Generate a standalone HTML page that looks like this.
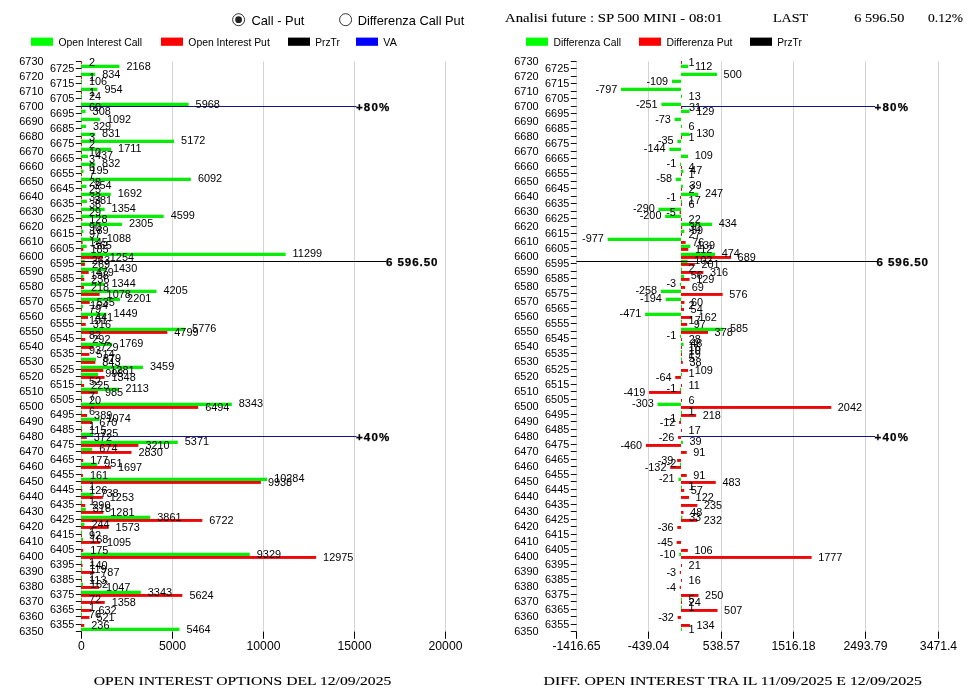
<!DOCTYPE html>
<html><head><meta charset="utf-8"><title>Open Interest</title>
<style>html,body{margin:0;padding:0;background:#fff;}body{width:980px;height:694px;overflow:hidden;font-family:"Liberation Sans",sans-serif;}svg text{white-space:pre;}</style>
</head><body>
<svg width="980" height="694" viewBox="0 0 980 694" style="display:block;will-change:transform">
<rect x="0" y="0" width="980" height="694" fill="#fff"/>
<circle cx="238.6" cy="19.7" r="6" fill="#fff" stroke="#333" stroke-width="1"/>
<circle cx="238.6" cy="19.7" r="3.4" fill="#222"/>
<text x="251.4" y="24.6" font-size="12.6" font-family="Liberation Sans, sans-serif" textLength="53.0" lengthAdjust="spacingAndGlyphs" fill="#000">Call - Put</text>
<circle cx="345.6" cy="19.7" r="6" fill="#fff" stroke="#333" stroke-width="1"/>
<text x="357.7" y="24.6" font-size="12.6" font-family="Liberation Sans, sans-serif" textLength="106.6" lengthAdjust="spacingAndGlyphs" fill="#000">Differenza Call Put</text>
<text x="505.0" y="22.0" font-size="13.2" font-family="Liberation Serif, serif" textLength="217.5" lengthAdjust="spacingAndGlyphs" fill="#000" stroke="#000" stroke-width="0.12">Analisi future : SP 500 MINI - 08:01</text>
<text x="773.0" y="22.0" font-size="13.2" font-family="Liberation Serif, serif" textLength="35.0" lengthAdjust="spacingAndGlyphs" fill="#000" stroke="#000" stroke-width="0.12">LAST</text>
<text x="854.3" y="22.0" font-size="13.2" font-family="Liberation Serif, serif" textLength="50.0" lengthAdjust="spacingAndGlyphs" fill="#000" stroke="#000" stroke-width="0.12">6 596.50</text>
<text x="928.0" y="22.0" font-size="13.2" font-family="Liberation Serif, serif" textLength="35.0" lengthAdjust="spacingAndGlyphs" fill="#000" stroke="#000" stroke-width="0.12">0.12%</text>
<rect x="31.00" y="37.60" width="22.00" height="8.20" fill="#00ff00"/>
<text x="58.5" y="45.9" font-size="11.8" font-family="Liberation Sans, sans-serif" textLength="83.5" lengthAdjust="spacingAndGlyphs" fill="#000">Open Interest Call</text>
<rect x="161.00" y="37.60" width="22.00" height="8.20" fill="#ff0000"/>
<text x="188.3" y="45.9" font-size="11.8" font-family="Liberation Sans, sans-serif" textLength="81.5" lengthAdjust="spacingAndGlyphs" fill="#000">Open Interest Put</text>
<rect x="288.00" y="37.60" width="22.00" height="8.20" fill="#000"/>
<text x="315.3" y="45.9" font-size="11.8" font-family="Liberation Sans, sans-serif" textLength="24.5" lengthAdjust="spacingAndGlyphs" fill="#000">PrzTr</text>
<rect x="356.00" y="37.60" width="22.00" height="8.20" fill="#0000ff"/>
<text x="383.3" y="45.9" font-size="11.8" font-family="Liberation Sans, sans-serif" textLength="13.5" lengthAdjust="spacingAndGlyphs" fill="#000">VA</text>
<rect x="526.00" y="37.60" width="22.00" height="8.20" fill="#00ff00"/>
<text x="553.5" y="45.9" font-size="11.8" font-family="Liberation Sans, sans-serif" textLength="67.5" lengthAdjust="spacingAndGlyphs" fill="#000">Differenza Call</text>
<rect x="639.00" y="37.60" width="22.00" height="8.20" fill="#ff0000"/>
<text x="666.5" y="45.9" font-size="11.8" font-family="Liberation Sans, sans-serif" textLength="66.0" lengthAdjust="spacingAndGlyphs" fill="#000">Differenza Put</text>
<rect x="750.00" y="37.60" width="22.00" height="8.20" fill="#000"/>
<text x="777.3" y="45.9" font-size="11.8" font-family="Liberation Sans, sans-serif" textLength="24.5" lengthAdjust="spacingAndGlyphs" fill="#000">PrzTr</text>
<line x1="81.50" y1="61.40" x2="81.50" y2="631.59" stroke="#d4d4d4" stroke-width="1"/>
<line x1="81.50" y1="631.59" x2="81.50" y2="638.79" stroke="#000" stroke-width="1"/>
<text x="81.5" y="650.3" font-size="12.2" font-family="Liberation Sans, sans-serif" text-anchor="middle" fill="#000">0</text>
<line x1="172.50" y1="61.40" x2="172.50" y2="631.59" stroke="#d4d4d4" stroke-width="1"/>
<line x1="172.50" y1="631.59" x2="172.50" y2="638.79" stroke="#000" stroke-width="1"/>
<text x="172.5" y="650.3" font-size="12.2" font-family="Liberation Sans, sans-serif" text-anchor="middle" fill="#000">5000</text>
<line x1="263.50" y1="61.40" x2="263.50" y2="631.59" stroke="#d4d4d4" stroke-width="1"/>
<line x1="263.50" y1="631.59" x2="263.50" y2="638.79" stroke="#000" stroke-width="1"/>
<text x="263.5" y="650.3" font-size="12.2" font-family="Liberation Sans, sans-serif" text-anchor="middle" fill="#000">10000</text>
<line x1="354.50" y1="61.40" x2="354.50" y2="631.59" stroke="#d4d4d4" stroke-width="1"/>
<line x1="354.50" y1="631.59" x2="354.50" y2="638.79" stroke="#000" stroke-width="1"/>
<text x="354.5" y="650.3" font-size="12.2" font-family="Liberation Sans, sans-serif" text-anchor="middle" fill="#000">15000</text>
<line x1="445.50" y1="61.40" x2="445.50" y2="631.59" stroke="#d4d4d4" stroke-width="1"/>
<line x1="445.50" y1="631.59" x2="445.50" y2="638.79" stroke="#000" stroke-width="1"/>
<text x="445.5" y="650.3" font-size="12.2" font-family="Liberation Sans, sans-serif" text-anchor="middle" fill="#000">20000</text>
<line x1="75.80" y1="61.50" x2="81.60" y2="61.50" stroke="#111" stroke-width="1"/>
<text x="43.5" y="65.3" font-size="10.9" font-family="Liberation Sans, sans-serif" text-anchor="end" fill="#000">6730</text>
<line x1="75.80" y1="68.50" x2="81.60" y2="68.50" stroke="#111" stroke-width="1"/>
<text x="74.3" y="72.3" font-size="10.9" font-family="Liberation Sans, sans-serif" text-anchor="end" fill="#000">6725</text>
<line x1="75.80" y1="76.50" x2="81.60" y2="76.50" stroke="#111" stroke-width="1"/>
<text x="43.5" y="80.3" font-size="10.9" font-family="Liberation Sans, sans-serif" text-anchor="end" fill="#000">6720</text>
<line x1="75.80" y1="83.50" x2="81.60" y2="83.50" stroke="#111" stroke-width="1"/>
<text x="74.3" y="87.3" font-size="10.9" font-family="Liberation Sans, sans-serif" text-anchor="end" fill="#000">6715</text>
<line x1="75.80" y1="91.50" x2="81.60" y2="91.50" stroke="#111" stroke-width="1"/>
<text x="43.5" y="95.3" font-size="10.9" font-family="Liberation Sans, sans-serif" text-anchor="end" fill="#000">6710</text>
<line x1="75.80" y1="98.50" x2="81.60" y2="98.50" stroke="#111" stroke-width="1"/>
<text x="74.3" y="102.3" font-size="10.9" font-family="Liberation Sans, sans-serif" text-anchor="end" fill="#000">6705</text>
<line x1="75.80" y1="106.50" x2="81.60" y2="106.50" stroke="#111" stroke-width="1"/>
<text x="43.5" y="110.3" font-size="10.9" font-family="Liberation Sans, sans-serif" text-anchor="end" fill="#000">6700</text>
<line x1="75.80" y1="113.50" x2="81.60" y2="113.50" stroke="#111" stroke-width="1"/>
<text x="74.3" y="117.3" font-size="10.9" font-family="Liberation Sans, sans-serif" text-anchor="end" fill="#000">6695</text>
<line x1="75.80" y1="121.50" x2="81.60" y2="121.50" stroke="#111" stroke-width="1"/>
<text x="43.5" y="125.3" font-size="10.9" font-family="Liberation Sans, sans-serif" text-anchor="end" fill="#000">6690</text>
<line x1="75.80" y1="128.50" x2="81.60" y2="128.50" stroke="#111" stroke-width="1"/>
<text x="74.3" y="132.3" font-size="10.9" font-family="Liberation Sans, sans-serif" text-anchor="end" fill="#000">6685</text>
<line x1="75.80" y1="136.50" x2="81.60" y2="136.50" stroke="#111" stroke-width="1"/>
<text x="43.5" y="140.3" font-size="10.9" font-family="Liberation Sans, sans-serif" text-anchor="end" fill="#000">6680</text>
<line x1="75.80" y1="143.50" x2="81.60" y2="143.50" stroke="#111" stroke-width="1"/>
<text x="74.3" y="147.3" font-size="10.9" font-family="Liberation Sans, sans-serif" text-anchor="end" fill="#000">6675</text>
<line x1="75.80" y1="151.50" x2="81.60" y2="151.50" stroke="#111" stroke-width="1"/>
<text x="43.5" y="155.3" font-size="10.9" font-family="Liberation Sans, sans-serif" text-anchor="end" fill="#000">6670</text>
<line x1="75.80" y1="158.50" x2="81.60" y2="158.50" stroke="#111" stroke-width="1"/>
<text x="74.3" y="162.3" font-size="10.9" font-family="Liberation Sans, sans-serif" text-anchor="end" fill="#000">6665</text>
<line x1="75.80" y1="166.50" x2="81.60" y2="166.50" stroke="#111" stroke-width="1"/>
<text x="43.5" y="170.3" font-size="10.9" font-family="Liberation Sans, sans-serif" text-anchor="end" fill="#000">6660</text>
<line x1="75.80" y1="173.50" x2="81.60" y2="173.50" stroke="#111" stroke-width="1"/>
<text x="74.3" y="177.3" font-size="10.9" font-family="Liberation Sans, sans-serif" text-anchor="end" fill="#000">6655</text>
<line x1="75.80" y1="181.50" x2="81.60" y2="181.50" stroke="#111" stroke-width="1"/>
<text x="43.5" y="185.3" font-size="10.9" font-family="Liberation Sans, sans-serif" text-anchor="end" fill="#000">6650</text>
<line x1="75.80" y1="188.50" x2="81.60" y2="188.50" stroke="#111" stroke-width="1"/>
<text x="74.3" y="192.3" font-size="10.9" font-family="Liberation Sans, sans-serif" text-anchor="end" fill="#000">6645</text>
<line x1="75.80" y1="196.50" x2="81.60" y2="196.50" stroke="#111" stroke-width="1"/>
<text x="43.5" y="200.3" font-size="10.9" font-family="Liberation Sans, sans-serif" text-anchor="end" fill="#000">6640</text>
<line x1="75.80" y1="203.50" x2="81.60" y2="203.50" stroke="#111" stroke-width="1"/>
<text x="74.3" y="207.3" font-size="10.9" font-family="Liberation Sans, sans-serif" text-anchor="end" fill="#000">6635</text>
<line x1="75.80" y1="211.50" x2="81.60" y2="211.50" stroke="#111" stroke-width="1"/>
<text x="43.5" y="215.3" font-size="10.9" font-family="Liberation Sans, sans-serif" text-anchor="end" fill="#000">6630</text>
<line x1="75.80" y1="218.50" x2="81.60" y2="218.50" stroke="#111" stroke-width="1"/>
<text x="74.3" y="222.3" font-size="10.9" font-family="Liberation Sans, sans-serif" text-anchor="end" fill="#000">6625</text>
<line x1="75.80" y1="226.50" x2="81.60" y2="226.50" stroke="#111" stroke-width="1"/>
<text x="43.5" y="230.3" font-size="10.9" font-family="Liberation Sans, sans-serif" text-anchor="end" fill="#000">6620</text>
<line x1="75.80" y1="233.50" x2="81.60" y2="233.50" stroke="#111" stroke-width="1"/>
<text x="74.3" y="237.3" font-size="10.9" font-family="Liberation Sans, sans-serif" text-anchor="end" fill="#000">6615</text>
<line x1="75.80" y1="241.50" x2="81.60" y2="241.50" stroke="#111" stroke-width="1"/>
<text x="43.5" y="245.3" font-size="10.9" font-family="Liberation Sans, sans-serif" text-anchor="end" fill="#000">6610</text>
<line x1="75.80" y1="248.50" x2="81.60" y2="248.50" stroke="#111" stroke-width="1"/>
<text x="74.3" y="252.3" font-size="10.9" font-family="Liberation Sans, sans-serif" text-anchor="end" fill="#000">6605</text>
<line x1="75.80" y1="256.50" x2="81.60" y2="256.50" stroke="#111" stroke-width="1"/>
<text x="43.5" y="260.3" font-size="10.9" font-family="Liberation Sans, sans-serif" text-anchor="end" fill="#000">6600</text>
<line x1="75.80" y1="263.50" x2="81.60" y2="263.50" stroke="#111" stroke-width="1"/>
<text x="74.3" y="267.3" font-size="10.9" font-family="Liberation Sans, sans-serif" text-anchor="end" fill="#000">6595</text>
<line x1="75.80" y1="271.50" x2="81.60" y2="271.50" stroke="#111" stroke-width="1"/>
<text x="43.5" y="275.3" font-size="10.9" font-family="Liberation Sans, sans-serif" text-anchor="end" fill="#000">6590</text>
<line x1="75.80" y1="278.50" x2="81.60" y2="278.50" stroke="#111" stroke-width="1"/>
<text x="74.3" y="282.3" font-size="10.9" font-family="Liberation Sans, sans-serif" text-anchor="end" fill="#000">6585</text>
<line x1="75.80" y1="286.50" x2="81.60" y2="286.50" stroke="#111" stroke-width="1"/>
<text x="43.5" y="290.3" font-size="10.9" font-family="Liberation Sans, sans-serif" text-anchor="end" fill="#000">6580</text>
<line x1="75.80" y1="293.50" x2="81.60" y2="293.50" stroke="#111" stroke-width="1"/>
<text x="74.3" y="297.3" font-size="10.9" font-family="Liberation Sans, sans-serif" text-anchor="end" fill="#000">6575</text>
<line x1="75.80" y1="301.50" x2="81.60" y2="301.50" stroke="#111" stroke-width="1"/>
<text x="43.5" y="305.3" font-size="10.9" font-family="Liberation Sans, sans-serif" text-anchor="end" fill="#000">6570</text>
<line x1="75.80" y1="308.50" x2="81.60" y2="308.50" stroke="#111" stroke-width="1"/>
<text x="74.3" y="312.3" font-size="10.9" font-family="Liberation Sans, sans-serif" text-anchor="end" fill="#000">6565</text>
<line x1="75.80" y1="316.50" x2="81.60" y2="316.50" stroke="#111" stroke-width="1"/>
<text x="43.5" y="320.3" font-size="10.9" font-family="Liberation Sans, sans-serif" text-anchor="end" fill="#000">6560</text>
<line x1="75.80" y1="323.50" x2="81.60" y2="323.50" stroke="#111" stroke-width="1"/>
<text x="74.3" y="327.3" font-size="10.9" font-family="Liberation Sans, sans-serif" text-anchor="end" fill="#000">6555</text>
<line x1="75.80" y1="331.50" x2="81.60" y2="331.50" stroke="#111" stroke-width="1"/>
<text x="43.5" y="335.3" font-size="10.9" font-family="Liberation Sans, sans-serif" text-anchor="end" fill="#000">6550</text>
<line x1="75.80" y1="338.50" x2="81.60" y2="338.50" stroke="#111" stroke-width="1"/>
<text x="74.3" y="342.3" font-size="10.9" font-family="Liberation Sans, sans-serif" text-anchor="end" fill="#000">6545</text>
<line x1="75.80" y1="346.50" x2="81.60" y2="346.50" stroke="#111" stroke-width="1"/>
<text x="43.5" y="350.3" font-size="10.9" font-family="Liberation Sans, sans-serif" text-anchor="end" fill="#000">6540</text>
<line x1="75.80" y1="353.50" x2="81.60" y2="353.50" stroke="#111" stroke-width="1"/>
<text x="74.3" y="357.3" font-size="10.9" font-family="Liberation Sans, sans-serif" text-anchor="end" fill="#000">6535</text>
<line x1="75.80" y1="361.50" x2="81.60" y2="361.50" stroke="#111" stroke-width="1"/>
<text x="43.5" y="365.3" font-size="10.9" font-family="Liberation Sans, sans-serif" text-anchor="end" fill="#000">6530</text>
<line x1="75.80" y1="369.50" x2="81.60" y2="369.50" stroke="#111" stroke-width="1"/>
<text x="74.3" y="373.3" font-size="10.9" font-family="Liberation Sans, sans-serif" text-anchor="end" fill="#000">6525</text>
<line x1="75.80" y1="376.50" x2="81.60" y2="376.50" stroke="#111" stroke-width="1"/>
<text x="43.5" y="380.3" font-size="10.9" font-family="Liberation Sans, sans-serif" text-anchor="end" fill="#000">6520</text>
<line x1="75.80" y1="384.50" x2="81.60" y2="384.50" stroke="#111" stroke-width="1"/>
<text x="74.3" y="388.3" font-size="10.9" font-family="Liberation Sans, sans-serif" text-anchor="end" fill="#000">6515</text>
<line x1="75.80" y1="391.50" x2="81.60" y2="391.50" stroke="#111" stroke-width="1"/>
<text x="43.5" y="395.3" font-size="10.9" font-family="Liberation Sans, sans-serif" text-anchor="end" fill="#000">6510</text>
<line x1="75.80" y1="399.50" x2="81.60" y2="399.50" stroke="#111" stroke-width="1"/>
<text x="74.3" y="403.3" font-size="10.9" font-family="Liberation Sans, sans-serif" text-anchor="end" fill="#000">6505</text>
<line x1="75.80" y1="406.50" x2="81.60" y2="406.50" stroke="#111" stroke-width="1"/>
<text x="43.5" y="410.3" font-size="10.9" font-family="Liberation Sans, sans-serif" text-anchor="end" fill="#000">6500</text>
<line x1="75.80" y1="414.50" x2="81.60" y2="414.50" stroke="#111" stroke-width="1"/>
<text x="74.3" y="418.3" font-size="10.9" font-family="Liberation Sans, sans-serif" text-anchor="end" fill="#000">6495</text>
<line x1="75.80" y1="421.50" x2="81.60" y2="421.50" stroke="#111" stroke-width="1"/>
<text x="43.5" y="425.3" font-size="10.9" font-family="Liberation Sans, sans-serif" text-anchor="end" fill="#000">6490</text>
<line x1="75.80" y1="429.50" x2="81.60" y2="429.50" stroke="#111" stroke-width="1"/>
<text x="74.3" y="433.3" font-size="10.9" font-family="Liberation Sans, sans-serif" text-anchor="end" fill="#000">6485</text>
<line x1="75.80" y1="436.50" x2="81.60" y2="436.50" stroke="#111" stroke-width="1"/>
<text x="43.5" y="440.3" font-size="10.9" font-family="Liberation Sans, sans-serif" text-anchor="end" fill="#000">6480</text>
<line x1="75.80" y1="444.50" x2="81.60" y2="444.50" stroke="#111" stroke-width="1"/>
<text x="74.3" y="448.3" font-size="10.9" font-family="Liberation Sans, sans-serif" text-anchor="end" fill="#000">6475</text>
<line x1="75.80" y1="451.50" x2="81.60" y2="451.50" stroke="#111" stroke-width="1"/>
<text x="43.5" y="455.3" font-size="10.9" font-family="Liberation Sans, sans-serif" text-anchor="end" fill="#000">6470</text>
<line x1="75.80" y1="459.50" x2="81.60" y2="459.50" stroke="#111" stroke-width="1"/>
<text x="74.3" y="463.3" font-size="10.9" font-family="Liberation Sans, sans-serif" text-anchor="end" fill="#000">6465</text>
<line x1="75.80" y1="466.50" x2="81.60" y2="466.50" stroke="#111" stroke-width="1"/>
<text x="43.5" y="470.3" font-size="10.9" font-family="Liberation Sans, sans-serif" text-anchor="end" fill="#000">6460</text>
<line x1="75.80" y1="474.50" x2="81.60" y2="474.50" stroke="#111" stroke-width="1"/>
<text x="74.3" y="478.3" font-size="10.9" font-family="Liberation Sans, sans-serif" text-anchor="end" fill="#000">6455</text>
<line x1="75.80" y1="481.50" x2="81.60" y2="481.50" stroke="#111" stroke-width="1"/>
<text x="43.5" y="485.3" font-size="10.9" font-family="Liberation Sans, sans-serif" text-anchor="end" fill="#000">6450</text>
<line x1="75.80" y1="489.50" x2="81.60" y2="489.50" stroke="#111" stroke-width="1"/>
<text x="74.3" y="493.3" font-size="10.9" font-family="Liberation Sans, sans-serif" text-anchor="end" fill="#000">6445</text>
<line x1="75.80" y1="496.50" x2="81.60" y2="496.50" stroke="#111" stroke-width="1"/>
<text x="43.5" y="500.3" font-size="10.9" font-family="Liberation Sans, sans-serif" text-anchor="end" fill="#000">6440</text>
<line x1="75.80" y1="504.50" x2="81.60" y2="504.50" stroke="#111" stroke-width="1"/>
<text x="74.3" y="508.3" font-size="10.9" font-family="Liberation Sans, sans-serif" text-anchor="end" fill="#000">6435</text>
<line x1="75.80" y1="511.50" x2="81.60" y2="511.50" stroke="#111" stroke-width="1"/>
<text x="43.5" y="515.3" font-size="10.9" font-family="Liberation Sans, sans-serif" text-anchor="end" fill="#000">6430</text>
<line x1="75.80" y1="519.50" x2="81.60" y2="519.50" stroke="#111" stroke-width="1"/>
<text x="74.3" y="523.3" font-size="10.9" font-family="Liberation Sans, sans-serif" text-anchor="end" fill="#000">6425</text>
<line x1="75.80" y1="526.50" x2="81.60" y2="526.50" stroke="#111" stroke-width="1"/>
<text x="43.5" y="530.3" font-size="10.9" font-family="Liberation Sans, sans-serif" text-anchor="end" fill="#000">6420</text>
<line x1="75.80" y1="534.50" x2="81.60" y2="534.50" stroke="#111" stroke-width="1"/>
<text x="74.3" y="538.3" font-size="10.9" font-family="Liberation Sans, sans-serif" text-anchor="end" fill="#000">6415</text>
<line x1="75.80" y1="541.50" x2="81.60" y2="541.50" stroke="#111" stroke-width="1"/>
<text x="43.5" y="545.3" font-size="10.9" font-family="Liberation Sans, sans-serif" text-anchor="end" fill="#000">6410</text>
<line x1="75.80" y1="549.50" x2="81.60" y2="549.50" stroke="#111" stroke-width="1"/>
<text x="74.3" y="553.3" font-size="10.9" font-family="Liberation Sans, sans-serif" text-anchor="end" fill="#000">6405</text>
<line x1="75.80" y1="556.50" x2="81.60" y2="556.50" stroke="#111" stroke-width="1"/>
<text x="43.5" y="560.3" font-size="10.9" font-family="Liberation Sans, sans-serif" text-anchor="end" fill="#000">6400</text>
<line x1="75.80" y1="564.50" x2="81.60" y2="564.50" stroke="#111" stroke-width="1"/>
<text x="74.3" y="568.3" font-size="10.9" font-family="Liberation Sans, sans-serif" text-anchor="end" fill="#000">6395</text>
<line x1="75.80" y1="571.50" x2="81.60" y2="571.50" stroke="#111" stroke-width="1"/>
<text x="43.5" y="575.3" font-size="10.9" font-family="Liberation Sans, sans-serif" text-anchor="end" fill="#000">6390</text>
<line x1="75.80" y1="579.50" x2="81.60" y2="579.50" stroke="#111" stroke-width="1"/>
<text x="74.3" y="583.3" font-size="10.9" font-family="Liberation Sans, sans-serif" text-anchor="end" fill="#000">6385</text>
<line x1="75.80" y1="586.50" x2="81.60" y2="586.50" stroke="#111" stroke-width="1"/>
<text x="43.5" y="590.3" font-size="10.9" font-family="Liberation Sans, sans-serif" text-anchor="end" fill="#000">6380</text>
<line x1="75.80" y1="594.50" x2="81.60" y2="594.50" stroke="#111" stroke-width="1"/>
<text x="74.3" y="598.3" font-size="10.9" font-family="Liberation Sans, sans-serif" text-anchor="end" fill="#000">6375</text>
<line x1="75.80" y1="601.50" x2="81.60" y2="601.50" stroke="#111" stroke-width="1"/>
<text x="43.5" y="605.3" font-size="10.9" font-family="Liberation Sans, sans-serif" text-anchor="end" fill="#000">6370</text>
<line x1="75.80" y1="609.50" x2="81.60" y2="609.50" stroke="#111" stroke-width="1"/>
<text x="74.3" y="613.3" font-size="10.9" font-family="Liberation Sans, sans-serif" text-anchor="end" fill="#000">6365</text>
<line x1="75.80" y1="616.50" x2="81.60" y2="616.50" stroke="#111" stroke-width="1"/>
<text x="43.5" y="620.3" font-size="10.9" font-family="Liberation Sans, sans-serif" text-anchor="end" fill="#000">6360</text>
<line x1="75.80" y1="624.50" x2="81.60" y2="624.50" stroke="#111" stroke-width="1"/>
<text x="74.3" y="628.3" font-size="10.9" font-family="Liberation Sans, sans-serif" text-anchor="end" fill="#000">6355</text>
<line x1="75.80" y1="631.50" x2="81.60" y2="631.50" stroke="#111" stroke-width="1"/>
<text x="43.5" y="635.3" font-size="10.9" font-family="Liberation Sans, sans-serif" text-anchor="end" fill="#000">6350</text>
<rect x="81.00" y="64.70" width="38.46" height="3.30" fill="#08ec08"/>
<rect x="81.00" y="72.70" width="14.18" height="3.30" fill="#08ec08"/>
<rect x="81.00" y="79.70" width="1.00" height="3.30" fill="#08ec08"/>
<rect x="81.00" y="87.70" width="16.36" height="3.30" fill="#08ec08"/>
<rect x="81.00" y="94.70" width="1.00" height="3.30" fill="#08ec08"/>
<rect x="81.00" y="102.70" width="107.62" height="3.30" fill="#08ec08"/>
<rect x="81.00" y="109.70" width="4.61" height="3.30" fill="#08ec08"/>
<rect x="81.00" y="117.70" width="18.87" height="3.30" fill="#08ec08"/>
<rect x="81.00" y="124.70" width="4.99" height="3.30" fill="#08ec08"/>
<rect x="81.00" y="132.70" width="14.12" height="3.30" fill="#08ec08"/>
<rect x="81.00" y="139.70" width="93.13" height="3.30" fill="#08ec08"/>
<rect x="81.00" y="147.70" width="30.14" height="3.30" fill="#08ec08"/>
<rect x="81.00" y="154.70" width="6.95" height="3.30" fill="#08ec08"/>
<rect x="81.00" y="162.70" width="14.14" height="3.30" fill="#08ec08"/>
<rect x="81.00" y="169.70" width="2.55" height="3.30" fill="#08ec08"/>
<rect x="81.00" y="177.70" width="109.87" height="3.30" fill="#08ec08"/>
<rect x="81.00" y="184.70" width="5.44" height="3.30" fill="#08ec08"/>
<rect x="81.00" y="192.70" width="29.79" height="3.30" fill="#08ec08"/>
<rect x="81.00" y="199.70" width="5.93" height="3.30" fill="#08ec08"/>
<rect x="81.00" y="207.70" width="23.64" height="3.30" fill="#08ec08"/>
<rect x="81.00" y="214.70" width="82.70" height="3.30" fill="#08ec08"/>
<rect x="81.00" y="222.70" width="40.95" height="3.30" fill="#08ec08"/>
<rect x="81.00" y="229.70" width="2.44" height="3.30" fill="#08ec08"/>
<rect x="81.00" y="237.70" width="18.80" height="3.30" fill="#08ec08"/>
<rect x="81.00" y="244.70" width="5.64" height="3.30" fill="#08ec08"/>
<rect x="81.00" y="252.70" width="204.64" height="3.30" fill="#08ec08"/>
<rect x="81.00" y="259.70" width="3.79" height="3.30" fill="#08ec08"/>
<rect x="81.00" y="267.70" width="25.03" height="3.30" fill="#08ec08"/>
<rect x="81.00" y="274.70" width="2.60" height="3.30" fill="#08ec08"/>
<rect x="81.00" y="282.70" width="23.46" height="3.30" fill="#08ec08"/>
<rect x="81.00" y="289.70" width="75.53" height="3.30" fill="#08ec08"/>
<rect x="81.00" y="297.70" width="39.06" height="3.30" fill="#08ec08"/>
<rect x="81.00" y="304.70" width="1.98" height="3.30" fill="#08ec08"/>
<rect x="81.00" y="312.70" width="25.37" height="3.30" fill="#08ec08"/>
<rect x="81.00" y="319.70" width="1.00" height="3.30" fill="#08ec08"/>
<rect x="81.00" y="327.70" width="104.12" height="3.30" fill="#08ec08"/>
<rect x="81.00" y="334.70" width="1.00" height="3.30" fill="#08ec08"/>
<rect x="81.00" y="342.70" width="31.20" height="3.30" fill="#08ec08"/>
<rect x="81.00" y="349.70" width="1.00" height="3.30" fill="#08ec08"/>
<rect x="81.00" y="357.70" width="15.00" height="3.30" fill="#08ec08"/>
<rect x="81.00" y="365.70" width="61.95" height="3.30" fill="#08ec08"/>
<rect x="81.00" y="372.70" width="17.16" height="3.30" fill="#08ec08"/>
<rect x="81.00" y="380.70" width="1.00" height="3.30" fill="#08ec08"/>
<rect x="81.00" y="387.70" width="37.46" height="3.30" fill="#08ec08"/>
<rect x="81.00" y="395.70" width="1.00" height="3.30" fill="#08ec08"/>
<rect x="81.00" y="402.70" width="150.84" height="3.30" fill="#08ec08"/>
<rect x="81.00" y="410.70" width="1.00" height="3.30" fill="#08ec08"/>
<rect x="81.00" y="417.70" width="18.55" height="3.30" fill="#08ec08"/>
<rect x="81.00" y="425.70" width="1.00" height="3.30" fill="#08ec08"/>
<rect x="81.00" y="432.70" width="12.20" height="3.30" fill="#08ec08"/>
<rect x="81.00" y="440.70" width="96.75" height="3.30" fill="#08ec08"/>
<rect x="81.00" y="447.70" width="11.27" height="3.30" fill="#08ec08"/>
<rect x="81.00" y="462.70" width="16.31" height="3.30" fill="#08ec08"/>
<rect x="81.00" y="477.70" width="186.17" height="3.30" fill="#08ec08"/>
<rect x="81.00" y="485.70" width="1.00" height="3.30" fill="#08ec08"/>
<rect x="81.00" y="492.70" width="12.43" height="3.30" fill="#08ec08"/>
<rect x="81.00" y="500.70" width="1.00" height="3.30" fill="#08ec08"/>
<rect x="81.00" y="507.70" width="4.79" height="3.30" fill="#08ec08"/>
<rect x="81.00" y="515.70" width="69.27" height="3.30" fill="#08ec08"/>
<rect x="81.00" y="522.70" width="3.44" height="3.30" fill="#08ec08"/>
<rect x="81.00" y="530.70" width="1.00" height="3.30" fill="#08ec08"/>
<rect x="81.00" y="537.70" width="2.06" height="3.30" fill="#08ec08"/>
<rect x="81.00" y="552.70" width="168.79" height="3.30" fill="#08ec08"/>
<rect x="81.00" y="560.70" width="1.00" height="3.30" fill="#08ec08"/>
<rect x="81.00" y="567.70" width="1.17" height="3.30" fill="#08ec08"/>
<rect x="81.00" y="575.70" width="1.00" height="3.30" fill="#08ec08"/>
<rect x="81.00" y="582.70" width="1.95" height="3.30" fill="#08ec08"/>
<rect x="81.00" y="590.70" width="59.84" height="3.30" fill="#08ec08"/>
<rect x="81.00" y="597.70" width="1.00" height="3.30" fill="#08ec08"/>
<rect x="81.00" y="605.70" width="1.00" height="3.30" fill="#08ec08"/>
<rect x="81.00" y="612.70" width="1.00" height="3.30" fill="#08ec08"/>
<rect x="81.00" y="627.70" width="98.44" height="3.30" fill="#08ec08"/>
<rect x="81.00" y="61.00" width="1.00" height="2.90" fill="#ec0808"/>
<rect x="81.00" y="76.00" width="1.00" height="2.90" fill="#ec0808"/>
<rect x="81.00" y="91.00" width="1.00" height="2.90" fill="#ec0808"/>
<rect x="81.00" y="106.00" width="1.00" height="2.90" fill="#ec0808"/>
<rect x="81.00" y="136.00" width="1.00" height="2.90" fill="#ec0808"/>
<rect x="81.00" y="143.00" width="1.00" height="2.90" fill="#ec0808"/>
<rect x="81.00" y="151.00" width="1.00" height="2.90" fill="#ec0808"/>
<rect x="81.00" y="158.00" width="1.00" height="2.90" fill="#ec0808"/>
<rect x="81.00" y="166.00" width="1.00" height="2.90" fill="#ec0808"/>
<rect x="81.00" y="173.00" width="1.00" height="2.90" fill="#ec0808"/>
<rect x="81.00" y="181.00" width="1.00" height="2.90" fill="#ec0808"/>
<rect x="81.00" y="188.00" width="1.00" height="2.90" fill="#ec0808"/>
<rect x="81.00" y="196.00" width="1.00" height="2.90" fill="#ec0808"/>
<rect x="81.00" y="203.00" width="1.00" height="2.90" fill="#ec0808"/>
<rect x="81.00" y="211.00" width="1.00" height="2.90" fill="#ec0808"/>
<rect x="81.00" y="218.00" width="1.33" height="2.90" fill="#ec0808"/>
<rect x="81.00" y="226.00" width="1.00" height="2.90" fill="#ec0808"/>
<rect x="81.00" y="233.00" width="1.00" height="2.90" fill="#ec0808"/>
<rect x="81.00" y="241.00" width="1.64" height="2.90" fill="#ec0808"/>
<rect x="81.00" y="248.00" width="2.37" height="2.90" fill="#ec0808"/>
<rect x="81.00" y="256.00" width="21.82" height="2.90" fill="#ec0808"/>
<rect x="81.00" y="263.00" width="3.90" height="2.90" fill="#ec0808"/>
<rect x="81.00" y="271.00" width="7.72" height="2.90" fill="#ec0808"/>
<rect x="81.00" y="278.00" width="3.30" height="2.90" fill="#ec0808"/>
<rect x="81.00" y="286.00" width="2.97" height="2.90" fill="#ec0808"/>
<rect x="81.00" y="293.00" width="18.62" height="2.90" fill="#ec0808"/>
<rect x="81.00" y="301.00" width="8.74" height="2.90" fill="#ec0808"/>
<rect x="81.00" y="308.00" width="1.00" height="2.90" fill="#ec0808"/>
<rect x="81.00" y="316.00" width="7.03" height="2.90" fill="#ec0808"/>
<rect x="81.00" y="323.00" width="4.75" height="2.90" fill="#ec0808"/>
<rect x="81.00" y="331.00" width="86.34" height="2.90" fill="#ec0808"/>
<rect x="81.00" y="338.00" width="4.31" height="2.90" fill="#ec0808"/>
<rect x="81.00" y="346.00" width="12.27" height="2.90" fill="#ec0808"/>
<rect x="81.00" y="353.00" width="8.35" height="2.90" fill="#ec0808"/>
<rect x="81.00" y="361.00" width="14.34" height="2.90" fill="#ec0808"/>
<rect x="81.00" y="369.00" width="22.31" height="2.90" fill="#ec0808"/>
<rect x="81.00" y="376.00" width="23.53" height="2.90" fill="#ec0808"/>
<rect x="81.00" y="384.00" width="3.10" height="2.90" fill="#ec0808"/>
<rect x="81.00" y="391.00" width="16.93" height="2.90" fill="#ec0808"/>
<rect x="81.00" y="399.00" width="1.00" height="2.90" fill="#ec0808"/>
<rect x="81.00" y="406.00" width="117.19" height="2.90" fill="#ec0808"/>
<rect x="81.00" y="414.00" width="6.08" height="2.90" fill="#ec0808"/>
<rect x="81.00" y="421.00" width="11.19" height="2.90" fill="#ec0808"/>
<rect x="81.00" y="429.00" width="1.09" height="2.90" fill="#ec0808"/>
<rect x="81.00" y="436.00" width="5.77" height="2.90" fill="#ec0808"/>
<rect x="81.00" y="444.00" width="57.42" height="2.90" fill="#ec0808"/>
<rect x="81.00" y="451.00" width="50.51" height="2.90" fill="#ec0808"/>
<rect x="81.00" y="459.00" width="2.22" height="2.90" fill="#ec0808"/>
<rect x="81.00" y="466.00" width="29.89" height="2.90" fill="#ec0808"/>
<rect x="81.00" y="474.00" width="1.93" height="2.90" fill="#ec0808"/>
<rect x="81.00" y="481.00" width="179.87" height="2.90" fill="#ec0808"/>
<rect x="81.00" y="489.00" width="1.29" height="2.90" fill="#ec0808"/>
<rect x="81.00" y="496.00" width="21.80" height="2.90" fill="#ec0808"/>
<rect x="81.00" y="504.00" width="4.28" height="2.90" fill="#ec0808"/>
<rect x="81.00" y="511.00" width="22.31" height="2.90" fill="#ec0808"/>
<rect x="81.00" y="519.00" width="121.34" height="2.90" fill="#ec0808"/>
<rect x="81.00" y="526.00" width="27.63" height="2.90" fill="#ec0808"/>
<rect x="81.00" y="534.00" width="1.00" height="2.90" fill="#ec0808"/>
<rect x="81.00" y="541.00" width="18.93" height="2.90" fill="#ec0808"/>
<rect x="81.00" y="549.00" width="2.19" height="2.90" fill="#ec0808"/>
<rect x="81.00" y="556.00" width="235.15" height="2.90" fill="#ec0808"/>
<rect x="81.00" y="564.00" width="1.55" height="2.90" fill="#ec0808"/>
<rect x="81.00" y="571.00" width="13.32" height="2.90" fill="#ec0808"/>
<rect x="81.00" y="579.00" width="1.06" height="2.90" fill="#ec0808"/>
<rect x="81.00" y="586.00" width="18.06" height="2.90" fill="#ec0808"/>
<rect x="81.00" y="594.00" width="101.36" height="2.90" fill="#ec0808"/>
<rect x="81.00" y="601.00" width="23.72" height="2.90" fill="#ec0808"/>
<rect x="81.00" y="609.00" width="10.50" height="2.90" fill="#ec0808"/>
<rect x="81.00" y="616.00" width="8.48" height="2.90" fill="#ec0808"/>
<rect x="81.00" y="624.00" width="3.30" height="2.90" fill="#ec0808"/>
<line x1="81.30" y1="261.50" x2="386.50" y2="261.50" stroke="#000" stroke-width="1"/>
<line x1="81.30" y1="106.50" x2="356.40" y2="106.50" stroke="#141488" stroke-width="1"/>
<line x1="81.30" y1="436.50" x2="356.40" y2="436.50" stroke="#141488" stroke-width="1"/>
<text x="126.5" y="69.5" font-size="10.9" font-family="Liberation Sans, sans-serif" fill="#000">2168</text>
<text x="102.2" y="77.5" font-size="10.9" font-family="Liberation Sans, sans-serif" fill="#000">834</text>
<text x="89.0" y="84.5" font-size="10.9" font-family="Liberation Sans, sans-serif" fill="#000">106</text>
<text x="104.4" y="92.5" font-size="10.9" font-family="Liberation Sans, sans-serif" fill="#000">954</text>
<text x="89.0" y="99.5" font-size="10.9" font-family="Liberation Sans, sans-serif" fill="#000">24</text>
<text x="195.6" y="107.5" font-size="10.9" font-family="Liberation Sans, sans-serif" fill="#000">5968</text>
<text x="92.6" y="114.5" font-size="10.9" font-family="Liberation Sans, sans-serif" fill="#000">308</text>
<text x="106.9" y="122.5" font-size="10.9" font-family="Liberation Sans, sans-serif" fill="#000">1092</text>
<text x="93.0" y="129.5" font-size="10.9" font-family="Liberation Sans, sans-serif" fill="#000">329</text>
<text x="102.1" y="137.4" font-size="10.9" font-family="Liberation Sans, sans-serif" fill="#000">831</text>
<text x="181.1" y="144.4" font-size="10.9" font-family="Liberation Sans, sans-serif" fill="#000">5172</text>
<text x="118.1" y="152.4" font-size="10.9" font-family="Liberation Sans, sans-serif" fill="#000">1711</text>
<text x="95.0" y="159.4" font-size="10.9" font-family="Liberation Sans, sans-serif" fill="#000">437</text>
<text x="102.1" y="167.4" font-size="10.9" font-family="Liberation Sans, sans-serif" fill="#000">832</text>
<text x="90.5" y="174.4" font-size="10.9" font-family="Liberation Sans, sans-serif" fill="#000">195</text>
<text x="197.9" y="182.4" font-size="10.9" font-family="Liberation Sans, sans-serif" fill="#000">6092</text>
<text x="93.4" y="189.4" font-size="10.9" font-family="Liberation Sans, sans-serif" fill="#000">354</text>
<text x="117.8" y="197.4" font-size="10.9" font-family="Liberation Sans, sans-serif" fill="#000">1692</text>
<text x="93.9" y="204.4" font-size="10.9" font-family="Liberation Sans, sans-serif" fill="#000">381</text>
<text x="111.6" y="212.4" font-size="10.9" font-family="Liberation Sans, sans-serif" fill="#000">1354</text>
<text x="170.7" y="219.4" font-size="10.9" font-family="Liberation Sans, sans-serif" fill="#000">4599</text>
<text x="129.0" y="227.4" font-size="10.9" font-family="Liberation Sans, sans-serif" fill="#000">2305</text>
<text x="90.4" y="234.4" font-size="10.9" font-family="Liberation Sans, sans-serif" fill="#000">189</text>
<text x="106.8" y="242.4" font-size="10.9" font-family="Liberation Sans, sans-serif" fill="#000">1088</text>
<text x="93.6" y="249.4" font-size="10.9" font-family="Liberation Sans, sans-serif" fill="#000">365</text>
<text x="292.6" y="257.4" font-size="10.9" font-family="Liberation Sans, sans-serif" fill="#000">11299</text>
<text x="91.8" y="264.4" font-size="10.9" font-family="Liberation Sans, sans-serif" fill="#000">263</text>
<text x="113.0" y="272.4" font-size="10.9" font-family="Liberation Sans, sans-serif" fill="#000">1430</text>
<text x="90.6" y="279.4" font-size="10.9" font-family="Liberation Sans, sans-serif" fill="#000">198</text>
<text x="111.5" y="287.4" font-size="10.9" font-family="Liberation Sans, sans-serif" fill="#000">1344</text>
<text x="163.5" y="294.4" font-size="10.9" font-family="Liberation Sans, sans-serif" fill="#000">4205</text>
<text x="127.1" y="302.4" font-size="10.9" font-family="Liberation Sans, sans-serif" fill="#000">2201</text>
<text x="90.0" y="309.4" font-size="10.9" font-family="Liberation Sans, sans-serif" fill="#000">164</text>
<text x="113.4" y="317.4" font-size="10.9" font-family="Liberation Sans, sans-serif" fill="#000">1449</text>
<text x="89.0" y="324.4" font-size="10.9" font-family="Liberation Sans, sans-serif" fill="#000">101</text>
<text x="192.1" y="332.4" font-size="10.9" font-family="Liberation Sans, sans-serif" fill="#000">5776</text>
<text x="89.0" y="339.4" font-size="10.9" font-family="Liberation Sans, sans-serif" fill="#000">82</text>
<text x="119.2" y="347.4" font-size="10.9" font-family="Liberation Sans, sans-serif" fill="#000">1769</text>
<text x="89.0" y="354.4" font-size="10.9" font-family="Liberation Sans, sans-serif" fill="#000">93</text>
<text x="103.0" y="362.4" font-size="10.9" font-family="Liberation Sans, sans-serif" fill="#000">879</text>
<text x="150.0" y="370.4" font-size="10.9" font-family="Liberation Sans, sans-serif" fill="#000">3459</text>
<text x="105.2" y="377.4" font-size="10.9" font-family="Liberation Sans, sans-serif" fill="#000">998</text>
<text x="89.0" y="385.4" font-size="10.9" font-family="Liberation Sans, sans-serif" fill="#000">52</text>
<text x="125.5" y="392.4" font-size="10.9" font-family="Liberation Sans, sans-serif" fill="#000">2113</text>
<text x="89.0" y="400.4" font-size="10.9" font-family="Liberation Sans, sans-serif" fill="#000">7</text>
<text x="238.8" y="407.4" font-size="10.9" font-family="Liberation Sans, sans-serif" fill="#000">8343</text>
<text x="89.0" y="415.4" font-size="10.9" font-family="Liberation Sans, sans-serif" fill="#000">6</text>
<text x="106.5" y="422.4" font-size="10.9" font-family="Liberation Sans, sans-serif" fill="#000">1074</text>
<text x="89.0" y="430.4" font-size="10.9" font-family="Liberation Sans, sans-serif" fill="#000">1</text>
<text x="100.2" y="437.4" font-size="10.9" font-family="Liberation Sans, sans-serif" fill="#000">725</text>
<text x="184.8" y="445.4" font-size="10.9" font-family="Liberation Sans, sans-serif" fill="#000">5371</text>
<text x="99.3" y="452.4" font-size="10.9" font-family="Liberation Sans, sans-serif" fill="#000">674</text>
<text x="104.3" y="467.4" font-size="10.9" font-family="Liberation Sans, sans-serif" fill="#000">951</text>
<text x="274.2" y="482.4" font-size="10.9" font-family="Liberation Sans, sans-serif" fill="#000">10284</text>
<text x="89.0" y="490.4" font-size="10.9" font-family="Liberation Sans, sans-serif" fill="#000">1</text>
<text x="100.4" y="497.4" font-size="10.9" font-family="Liberation Sans, sans-serif" fill="#000">738</text>
<text x="89.0" y="505.4" font-size="10.9" font-family="Liberation Sans, sans-serif" fill="#000">1</text>
<text x="92.8" y="512.4" font-size="10.9" font-family="Liberation Sans, sans-serif" fill="#000">318</text>
<text x="157.3" y="520.5" font-size="10.9" font-family="Liberation Sans, sans-serif" fill="#000">3861</text>
<text x="91.4" y="527.5" font-size="10.9" font-family="Liberation Sans, sans-serif" fill="#000">244</text>
<text x="89.0" y="535.5" font-size="10.9" font-family="Liberation Sans, sans-serif" fill="#000">1</text>
<text x="90.1" y="542.5" font-size="10.9" font-family="Liberation Sans, sans-serif" fill="#000">168</text>
<text x="256.8" y="557.5" font-size="10.9" font-family="Liberation Sans, sans-serif" fill="#000">9329</text>
<text x="89.0" y="565.5" font-size="10.9" font-family="Liberation Sans, sans-serif" fill="#000">1</text>
<text x="89.2" y="572.5" font-size="10.9" font-family="Liberation Sans, sans-serif" fill="#000">119</text>
<text x="89.0" y="580.5" font-size="10.9" font-family="Liberation Sans, sans-serif" fill="#000">1</text>
<text x="89.9" y="587.5" font-size="10.9" font-family="Liberation Sans, sans-serif" fill="#000">162</text>
<text x="147.8" y="595.5" font-size="10.9" font-family="Liberation Sans, sans-serif" fill="#000">3343</text>
<text x="89.0" y="602.5" font-size="10.9" font-family="Liberation Sans, sans-serif" fill="#000">72</text>
<text x="89.0" y="610.5" font-size="10.9" font-family="Liberation Sans, sans-serif" fill="#000">1</text>
<text x="89.0" y="617.5" font-size="10.9" font-family="Liberation Sans, sans-serif" fill="#000">76</text>
<text x="186.4" y="632.5" font-size="10.9" font-family="Liberation Sans, sans-serif" fill="#000">5464</text>
<text x="89.0" y="65.5" font-size="10.9" font-family="Liberation Sans, sans-serif" fill="#000">2</text>
<text x="89.0" y="80.5" font-size="10.9" font-family="Liberation Sans, sans-serif" fill="#000">1</text>
<text x="89.0" y="95.5" font-size="10.9" font-family="Liberation Sans, sans-serif" fill="#000">1</text>
<text x="89.0" y="110.5" font-size="10.9" font-family="Liberation Sans, sans-serif" fill="#000">60</text>
<text x="89.0" y="140.5" font-size="10.9" font-family="Liberation Sans, sans-serif" fill="#000">3</text>
<text x="89.0" y="147.5" font-size="10.9" font-family="Liberation Sans, sans-serif" fill="#000">2</text>
<text x="89.0" y="155.5" font-size="10.9" font-family="Liberation Sans, sans-serif" fill="#000">10</text>
<text x="89.0" y="162.5" font-size="10.9" font-family="Liberation Sans, sans-serif" fill="#000">3</text>
<text x="89.0" y="170.5" font-size="10.9" font-family="Liberation Sans, sans-serif" fill="#000">6</text>
<text x="89.0" y="177.5" font-size="10.9" font-family="Liberation Sans, sans-serif" fill="#000">7</text>
<text x="89.0" y="185.5" font-size="10.9" font-family="Liberation Sans, sans-serif" fill="#000">28</text>
<text x="89.0" y="192.5" font-size="10.9" font-family="Liberation Sans, sans-serif" fill="#000">25</text>
<text x="89.0" y="200.5" font-size="10.9" font-family="Liberation Sans, sans-serif" fill="#000">33</text>
<text x="89.0" y="207.5" font-size="10.9" font-family="Liberation Sans, sans-serif" fill="#000">38</text>
<text x="89.0" y="215.5" font-size="10.9" font-family="Liberation Sans, sans-serif" fill="#000">29</text>
<text x="89.3" y="222.5" font-size="10.9" font-family="Liberation Sans, sans-serif" fill="#000">128</text>
<text x="89.0" y="230.5" font-size="10.9" font-family="Liberation Sans, sans-serif" fill="#000">90</text>
<text x="89.0" y="237.5" font-size="10.9" font-family="Liberation Sans, sans-serif" fill="#000">97</text>
<text x="89.6" y="245.5" font-size="10.9" font-family="Liberation Sans, sans-serif" fill="#000">145</text>
<text x="90.4" y="252.5" font-size="10.9" font-family="Liberation Sans, sans-serif" fill="#000">185</text>
<text x="109.8" y="260.6" font-size="10.9" font-family="Liberation Sans, sans-serif" fill="#000">1254</text>
<text x="91.9" y="267.6" font-size="10.9" font-family="Liberation Sans, sans-serif" fill="#000">269</text>
<text x="95.7" y="275.6" font-size="10.9" font-family="Liberation Sans, sans-serif" fill="#000">479</text>
<text x="91.3" y="282.6" font-size="10.9" font-family="Liberation Sans, sans-serif" fill="#000">236</text>
<text x="91.0" y="290.6" font-size="10.9" font-family="Liberation Sans, sans-serif" fill="#000">218</text>
<text x="106.6" y="297.6" font-size="10.9" font-family="Liberation Sans, sans-serif" fill="#000">1078</text>
<text x="96.7" y="305.6" font-size="10.9" font-family="Liberation Sans, sans-serif" fill="#000">535</text>
<text x="89.0" y="312.6" font-size="10.9" font-family="Liberation Sans, sans-serif" fill="#000">79</text>
<text x="95.0" y="320.6" font-size="10.9" font-family="Liberation Sans, sans-serif" fill="#000">441</text>
<text x="92.8" y="327.6" font-size="10.9" font-family="Liberation Sans, sans-serif" fill="#000">316</text>
<text x="174.3" y="335.6" font-size="10.9" font-family="Liberation Sans, sans-serif" fill="#000">4799</text>
<text x="92.3" y="342.6" font-size="10.9" font-family="Liberation Sans, sans-serif" fill="#000">292</text>
<text x="100.3" y="350.6" font-size="10.9" font-family="Liberation Sans, sans-serif" fill="#000">729</text>
<text x="96.4" y="357.6" font-size="10.9" font-family="Liberation Sans, sans-serif" fill="#000">514</text>
<text x="102.3" y="365.6" font-size="10.9" font-family="Liberation Sans, sans-serif" fill="#000">843</text>
<text x="110.3" y="373.6" font-size="10.9" font-family="Liberation Sans, sans-serif" fill="#000">1281</text>
<text x="111.5" y="380.6" font-size="10.9" font-family="Liberation Sans, sans-serif" fill="#000">1348</text>
<text x="91.1" y="388.6" font-size="10.9" font-family="Liberation Sans, sans-serif" fill="#000">225</text>
<text x="104.9" y="395.6" font-size="10.9" font-family="Liberation Sans, sans-serif" fill="#000">985</text>
<text x="89.0" y="403.6" font-size="10.9" font-family="Liberation Sans, sans-serif" fill="#000">20</text>
<text x="205.2" y="410.6" font-size="10.9" font-family="Liberation Sans, sans-serif" fill="#000">6494</text>
<text x="94.1" y="418.6" font-size="10.9" font-family="Liberation Sans, sans-serif" fill="#000">389</text>
<text x="99.2" y="425.6" font-size="10.9" font-family="Liberation Sans, sans-serif" fill="#000">670</text>
<text x="89.1" y="433.6" font-size="10.9" font-family="Liberation Sans, sans-serif" fill="#000">115</text>
<text x="93.8" y="440.6" font-size="10.9" font-family="Liberation Sans, sans-serif" fill="#000">372</text>
<text x="145.4" y="448.6" font-size="10.9" font-family="Liberation Sans, sans-serif" fill="#000">3210</text>
<text x="138.5" y="455.6" font-size="10.9" font-family="Liberation Sans, sans-serif" fill="#000">2830</text>
<text x="90.2" y="463.6" font-size="10.9" font-family="Liberation Sans, sans-serif" fill="#000">177</text>
<text x="117.9" y="470.6" font-size="10.9" font-family="Liberation Sans, sans-serif" fill="#000">1697</text>
<text x="89.9" y="478.6" font-size="10.9" font-family="Liberation Sans, sans-serif" fill="#000">161</text>
<text x="267.9" y="485.6" font-size="10.9" font-family="Liberation Sans, sans-serif" fill="#000">9938</text>
<text x="89.3" y="493.6" font-size="10.9" font-family="Liberation Sans, sans-serif" fill="#000">126</text>
<text x="109.8" y="500.6" font-size="10.9" font-family="Liberation Sans, sans-serif" fill="#000">1253</text>
<text x="92.3" y="508.6" font-size="10.9" font-family="Liberation Sans, sans-serif" fill="#000">290</text>
<text x="110.3" y="515.6" font-size="10.9" font-family="Liberation Sans, sans-serif" fill="#000">1281</text>
<text x="209.3" y="523.6" font-size="10.9" font-family="Liberation Sans, sans-serif" fill="#000">6722</text>
<text x="115.6" y="530.6" font-size="10.9" font-family="Liberation Sans, sans-serif" fill="#000">1573</text>
<text x="89.0" y="538.6" font-size="10.9" font-family="Liberation Sans, sans-serif" fill="#000">92</text>
<text x="106.9" y="545.6" font-size="10.9" font-family="Liberation Sans, sans-serif" fill="#000">1095</text>
<text x="90.2" y="553.6" font-size="10.9" font-family="Liberation Sans, sans-serif" fill="#000">175</text>
<text x="323.1" y="560.6" font-size="10.9" font-family="Liberation Sans, sans-serif" fill="#000">12975</text>
<text x="89.5" y="568.6" font-size="10.9" font-family="Liberation Sans, sans-serif" fill="#000">140</text>
<text x="101.3" y="575.6" font-size="10.9" font-family="Liberation Sans, sans-serif" fill="#000">787</text>
<text x="89.1" y="583.6" font-size="10.9" font-family="Liberation Sans, sans-serif" fill="#000">113</text>
<text x="106.1" y="590.6" font-size="10.9" font-family="Liberation Sans, sans-serif" fill="#000">1047</text>
<text x="189.4" y="598.6" font-size="10.9" font-family="Liberation Sans, sans-serif" fill="#000">5624</text>
<text x="111.7" y="605.6" font-size="10.9" font-family="Liberation Sans, sans-serif" fill="#000">1358</text>
<text x="98.5" y="613.6" font-size="10.9" font-family="Liberation Sans, sans-serif" fill="#000">632</text>
<text x="96.5" y="620.6" font-size="10.9" font-family="Liberation Sans, sans-serif" fill="#000">521</text>
<text x="91.3" y="628.6" font-size="10.9" font-family="Liberation Sans, sans-serif" fill="#000">236</text>
<text x="355.9" y="110.7" font-size="11.6" font-family="Liberation Sans, sans-serif" font-weight="bold" textLength="33.5" lengthAdjust="spacing" fill="#000" stroke="#000" stroke-width="0.25">+80%</text>
<text x="355.9" y="440.8" font-size="11.6" font-family="Liberation Sans, sans-serif" font-weight="bold" textLength="33.5" lengthAdjust="spacing" fill="#000" stroke="#000" stroke-width="0.25">+40%</text>
<text x="386.0" y="266.0" font-size="11.6" font-family="Liberation Sans, sans-serif" font-weight="bold" textLength="51.5" lengthAdjust="spacing" fill="#000" stroke="#000" stroke-width="0.25">6 596.50</text>
<line x1="576.50" y1="61.40" x2="576.50" y2="631.59" stroke="#d4d4d4" stroke-width="1"/>
<line x1="576.50" y1="631.59" x2="576.50" y2="638.79" stroke="#000" stroke-width="1"/>
<text x="576.5" y="650.3" font-size="12.2" font-family="Liberation Sans, sans-serif" text-anchor="middle" fill="#000">-1416.65</text>
<line x1="648.50" y1="61.40" x2="648.50" y2="631.59" stroke="#d4d4d4" stroke-width="1"/>
<line x1="648.50" y1="631.59" x2="648.50" y2="638.79" stroke="#000" stroke-width="1"/>
<text x="648.5" y="650.3" font-size="12.2" font-family="Liberation Sans, sans-serif" text-anchor="middle" fill="#000">-439.04</text>
<line x1="721.50" y1="61.40" x2="721.50" y2="631.59" stroke="#d4d4d4" stroke-width="1"/>
<line x1="721.50" y1="631.59" x2="721.50" y2="638.79" stroke="#000" stroke-width="1"/>
<text x="721.5" y="650.3" font-size="12.2" font-family="Liberation Sans, sans-serif" text-anchor="middle" fill="#000">538.57</text>
<line x1="793.50" y1="61.40" x2="793.50" y2="631.59" stroke="#d4d4d4" stroke-width="1"/>
<line x1="793.50" y1="631.59" x2="793.50" y2="638.79" stroke="#000" stroke-width="1"/>
<text x="793.5" y="650.3" font-size="12.2" font-family="Liberation Sans, sans-serif" text-anchor="middle" fill="#000">1516.18</text>
<line x1="865.50" y1="61.40" x2="865.50" y2="631.59" stroke="#d4d4d4" stroke-width="1"/>
<line x1="865.50" y1="631.59" x2="865.50" y2="638.79" stroke="#000" stroke-width="1"/>
<text x="865.5" y="650.3" font-size="12.2" font-family="Liberation Sans, sans-serif" text-anchor="middle" fill="#000">2493.79</text>
<line x1="938.50" y1="61.40" x2="938.50" y2="631.59" stroke="#d4d4d4" stroke-width="1"/>
<line x1="938.50" y1="631.59" x2="938.50" y2="638.79" stroke="#000" stroke-width="1"/>
<text x="938.5" y="650.3" font-size="12.2" font-family="Liberation Sans, sans-serif" text-anchor="middle" fill="#000">3471.4</text>
<line x1="570.80" y1="61.50" x2="576.60" y2="61.50" stroke="#111" stroke-width="1"/>
<text x="538.5" y="65.3" font-size="10.9" font-family="Liberation Sans, sans-serif" text-anchor="end" fill="#000">6730</text>
<line x1="570.80" y1="68.50" x2="576.60" y2="68.50" stroke="#111" stroke-width="1"/>
<text x="569.3" y="72.3" font-size="10.9" font-family="Liberation Sans, sans-serif" text-anchor="end" fill="#000">6725</text>
<line x1="570.80" y1="76.50" x2="576.60" y2="76.50" stroke="#111" stroke-width="1"/>
<text x="538.5" y="80.3" font-size="10.9" font-family="Liberation Sans, sans-serif" text-anchor="end" fill="#000">6720</text>
<line x1="570.80" y1="83.50" x2="576.60" y2="83.50" stroke="#111" stroke-width="1"/>
<text x="569.3" y="87.3" font-size="10.9" font-family="Liberation Sans, sans-serif" text-anchor="end" fill="#000">6715</text>
<line x1="570.80" y1="91.50" x2="576.60" y2="91.50" stroke="#111" stroke-width="1"/>
<text x="538.5" y="95.3" font-size="10.9" font-family="Liberation Sans, sans-serif" text-anchor="end" fill="#000">6710</text>
<line x1="570.80" y1="98.50" x2="576.60" y2="98.50" stroke="#111" stroke-width="1"/>
<text x="569.3" y="102.3" font-size="10.9" font-family="Liberation Sans, sans-serif" text-anchor="end" fill="#000">6705</text>
<line x1="570.80" y1="106.50" x2="576.60" y2="106.50" stroke="#111" stroke-width="1"/>
<text x="538.5" y="110.3" font-size="10.9" font-family="Liberation Sans, sans-serif" text-anchor="end" fill="#000">6700</text>
<line x1="570.80" y1="113.50" x2="576.60" y2="113.50" stroke="#111" stroke-width="1"/>
<text x="569.3" y="117.3" font-size="10.9" font-family="Liberation Sans, sans-serif" text-anchor="end" fill="#000">6695</text>
<line x1="570.80" y1="121.50" x2="576.60" y2="121.50" stroke="#111" stroke-width="1"/>
<text x="538.5" y="125.3" font-size="10.9" font-family="Liberation Sans, sans-serif" text-anchor="end" fill="#000">6690</text>
<line x1="570.80" y1="128.50" x2="576.60" y2="128.50" stroke="#111" stroke-width="1"/>
<text x="569.3" y="132.3" font-size="10.9" font-family="Liberation Sans, sans-serif" text-anchor="end" fill="#000">6685</text>
<line x1="570.80" y1="136.50" x2="576.60" y2="136.50" stroke="#111" stroke-width="1"/>
<text x="538.5" y="140.3" font-size="10.9" font-family="Liberation Sans, sans-serif" text-anchor="end" fill="#000">6680</text>
<line x1="570.80" y1="143.50" x2="576.60" y2="143.50" stroke="#111" stroke-width="1"/>
<text x="569.3" y="147.3" font-size="10.9" font-family="Liberation Sans, sans-serif" text-anchor="end" fill="#000">6675</text>
<line x1="570.80" y1="151.50" x2="576.60" y2="151.50" stroke="#111" stroke-width="1"/>
<text x="538.5" y="155.3" font-size="10.9" font-family="Liberation Sans, sans-serif" text-anchor="end" fill="#000">6670</text>
<line x1="570.80" y1="158.50" x2="576.60" y2="158.50" stroke="#111" stroke-width="1"/>
<text x="569.3" y="162.3" font-size="10.9" font-family="Liberation Sans, sans-serif" text-anchor="end" fill="#000">6665</text>
<line x1="570.80" y1="166.50" x2="576.60" y2="166.50" stroke="#111" stroke-width="1"/>
<text x="538.5" y="170.3" font-size="10.9" font-family="Liberation Sans, sans-serif" text-anchor="end" fill="#000">6660</text>
<line x1="570.80" y1="173.50" x2="576.60" y2="173.50" stroke="#111" stroke-width="1"/>
<text x="569.3" y="177.3" font-size="10.9" font-family="Liberation Sans, sans-serif" text-anchor="end" fill="#000">6655</text>
<line x1="570.80" y1="181.50" x2="576.60" y2="181.50" stroke="#111" stroke-width="1"/>
<text x="538.5" y="185.3" font-size="10.9" font-family="Liberation Sans, sans-serif" text-anchor="end" fill="#000">6650</text>
<line x1="570.80" y1="188.50" x2="576.60" y2="188.50" stroke="#111" stroke-width="1"/>
<text x="569.3" y="192.3" font-size="10.9" font-family="Liberation Sans, sans-serif" text-anchor="end" fill="#000">6645</text>
<line x1="570.80" y1="196.50" x2="576.60" y2="196.50" stroke="#111" stroke-width="1"/>
<text x="538.5" y="200.3" font-size="10.9" font-family="Liberation Sans, sans-serif" text-anchor="end" fill="#000">6640</text>
<line x1="570.80" y1="203.50" x2="576.60" y2="203.50" stroke="#111" stroke-width="1"/>
<text x="569.3" y="207.3" font-size="10.9" font-family="Liberation Sans, sans-serif" text-anchor="end" fill="#000">6635</text>
<line x1="570.80" y1="211.50" x2="576.60" y2="211.50" stroke="#111" stroke-width="1"/>
<text x="538.5" y="215.3" font-size="10.9" font-family="Liberation Sans, sans-serif" text-anchor="end" fill="#000">6630</text>
<line x1="570.80" y1="218.50" x2="576.60" y2="218.50" stroke="#111" stroke-width="1"/>
<text x="569.3" y="222.3" font-size="10.9" font-family="Liberation Sans, sans-serif" text-anchor="end" fill="#000">6625</text>
<line x1="570.80" y1="226.50" x2="576.60" y2="226.50" stroke="#111" stroke-width="1"/>
<text x="538.5" y="230.3" font-size="10.9" font-family="Liberation Sans, sans-serif" text-anchor="end" fill="#000">6620</text>
<line x1="570.80" y1="233.50" x2="576.60" y2="233.50" stroke="#111" stroke-width="1"/>
<text x="569.3" y="237.3" font-size="10.9" font-family="Liberation Sans, sans-serif" text-anchor="end" fill="#000">6615</text>
<line x1="570.80" y1="241.50" x2="576.60" y2="241.50" stroke="#111" stroke-width="1"/>
<text x="538.5" y="245.3" font-size="10.9" font-family="Liberation Sans, sans-serif" text-anchor="end" fill="#000">6610</text>
<line x1="570.80" y1="248.50" x2="576.60" y2="248.50" stroke="#111" stroke-width="1"/>
<text x="569.3" y="252.3" font-size="10.9" font-family="Liberation Sans, sans-serif" text-anchor="end" fill="#000">6605</text>
<line x1="570.80" y1="256.50" x2="576.60" y2="256.50" stroke="#111" stroke-width="1"/>
<text x="538.5" y="260.3" font-size="10.9" font-family="Liberation Sans, sans-serif" text-anchor="end" fill="#000">6600</text>
<line x1="570.80" y1="263.50" x2="576.60" y2="263.50" stroke="#111" stroke-width="1"/>
<text x="569.3" y="267.3" font-size="10.9" font-family="Liberation Sans, sans-serif" text-anchor="end" fill="#000">6595</text>
<line x1="570.80" y1="271.50" x2="576.60" y2="271.50" stroke="#111" stroke-width="1"/>
<text x="538.5" y="275.3" font-size="10.9" font-family="Liberation Sans, sans-serif" text-anchor="end" fill="#000">6590</text>
<line x1="570.80" y1="278.50" x2="576.60" y2="278.50" stroke="#111" stroke-width="1"/>
<text x="569.3" y="282.3" font-size="10.9" font-family="Liberation Sans, sans-serif" text-anchor="end" fill="#000">6585</text>
<line x1="570.80" y1="286.50" x2="576.60" y2="286.50" stroke="#111" stroke-width="1"/>
<text x="538.5" y="290.3" font-size="10.9" font-family="Liberation Sans, sans-serif" text-anchor="end" fill="#000">6580</text>
<line x1="570.80" y1="293.50" x2="576.60" y2="293.50" stroke="#111" stroke-width="1"/>
<text x="569.3" y="297.3" font-size="10.9" font-family="Liberation Sans, sans-serif" text-anchor="end" fill="#000">6575</text>
<line x1="570.80" y1="301.50" x2="576.60" y2="301.50" stroke="#111" stroke-width="1"/>
<text x="538.5" y="305.3" font-size="10.9" font-family="Liberation Sans, sans-serif" text-anchor="end" fill="#000">6570</text>
<line x1="570.80" y1="308.50" x2="576.60" y2="308.50" stroke="#111" stroke-width="1"/>
<text x="569.3" y="312.3" font-size="10.9" font-family="Liberation Sans, sans-serif" text-anchor="end" fill="#000">6565</text>
<line x1="570.80" y1="316.50" x2="576.60" y2="316.50" stroke="#111" stroke-width="1"/>
<text x="538.5" y="320.3" font-size="10.9" font-family="Liberation Sans, sans-serif" text-anchor="end" fill="#000">6560</text>
<line x1="570.80" y1="323.50" x2="576.60" y2="323.50" stroke="#111" stroke-width="1"/>
<text x="569.3" y="327.3" font-size="10.9" font-family="Liberation Sans, sans-serif" text-anchor="end" fill="#000">6555</text>
<line x1="570.80" y1="331.50" x2="576.60" y2="331.50" stroke="#111" stroke-width="1"/>
<text x="538.5" y="335.3" font-size="10.9" font-family="Liberation Sans, sans-serif" text-anchor="end" fill="#000">6550</text>
<line x1="570.80" y1="338.50" x2="576.60" y2="338.50" stroke="#111" stroke-width="1"/>
<text x="569.3" y="342.3" font-size="10.9" font-family="Liberation Sans, sans-serif" text-anchor="end" fill="#000">6545</text>
<line x1="570.80" y1="346.50" x2="576.60" y2="346.50" stroke="#111" stroke-width="1"/>
<text x="538.5" y="350.3" font-size="10.9" font-family="Liberation Sans, sans-serif" text-anchor="end" fill="#000">6540</text>
<line x1="570.80" y1="353.50" x2="576.60" y2="353.50" stroke="#111" stroke-width="1"/>
<text x="569.3" y="357.3" font-size="10.9" font-family="Liberation Sans, sans-serif" text-anchor="end" fill="#000">6535</text>
<line x1="570.80" y1="361.50" x2="576.60" y2="361.50" stroke="#111" stroke-width="1"/>
<text x="538.5" y="365.3" font-size="10.9" font-family="Liberation Sans, sans-serif" text-anchor="end" fill="#000">6530</text>
<line x1="570.80" y1="369.50" x2="576.60" y2="369.50" stroke="#111" stroke-width="1"/>
<text x="569.3" y="373.3" font-size="10.9" font-family="Liberation Sans, sans-serif" text-anchor="end" fill="#000">6525</text>
<line x1="570.80" y1="376.50" x2="576.60" y2="376.50" stroke="#111" stroke-width="1"/>
<text x="538.5" y="380.3" font-size="10.9" font-family="Liberation Sans, sans-serif" text-anchor="end" fill="#000">6520</text>
<line x1="570.80" y1="384.50" x2="576.60" y2="384.50" stroke="#111" stroke-width="1"/>
<text x="569.3" y="388.3" font-size="10.9" font-family="Liberation Sans, sans-serif" text-anchor="end" fill="#000">6515</text>
<line x1="570.80" y1="391.50" x2="576.60" y2="391.50" stroke="#111" stroke-width="1"/>
<text x="538.5" y="395.3" font-size="10.9" font-family="Liberation Sans, sans-serif" text-anchor="end" fill="#000">6510</text>
<line x1="570.80" y1="399.50" x2="576.60" y2="399.50" stroke="#111" stroke-width="1"/>
<text x="569.3" y="403.3" font-size="10.9" font-family="Liberation Sans, sans-serif" text-anchor="end" fill="#000">6505</text>
<line x1="570.80" y1="406.50" x2="576.60" y2="406.50" stroke="#111" stroke-width="1"/>
<text x="538.5" y="410.3" font-size="10.9" font-family="Liberation Sans, sans-serif" text-anchor="end" fill="#000">6500</text>
<line x1="570.80" y1="414.50" x2="576.60" y2="414.50" stroke="#111" stroke-width="1"/>
<text x="569.3" y="418.3" font-size="10.9" font-family="Liberation Sans, sans-serif" text-anchor="end" fill="#000">6495</text>
<line x1="570.80" y1="421.50" x2="576.60" y2="421.50" stroke="#111" stroke-width="1"/>
<text x="538.5" y="425.3" font-size="10.9" font-family="Liberation Sans, sans-serif" text-anchor="end" fill="#000">6490</text>
<line x1="570.80" y1="429.50" x2="576.60" y2="429.50" stroke="#111" stroke-width="1"/>
<text x="569.3" y="433.3" font-size="10.9" font-family="Liberation Sans, sans-serif" text-anchor="end" fill="#000">6485</text>
<line x1="570.80" y1="436.50" x2="576.60" y2="436.50" stroke="#111" stroke-width="1"/>
<text x="538.5" y="440.3" font-size="10.9" font-family="Liberation Sans, sans-serif" text-anchor="end" fill="#000">6480</text>
<line x1="570.80" y1="444.50" x2="576.60" y2="444.50" stroke="#111" stroke-width="1"/>
<text x="569.3" y="448.3" font-size="10.9" font-family="Liberation Sans, sans-serif" text-anchor="end" fill="#000">6475</text>
<line x1="570.80" y1="451.50" x2="576.60" y2="451.50" stroke="#111" stroke-width="1"/>
<text x="538.5" y="455.3" font-size="10.9" font-family="Liberation Sans, sans-serif" text-anchor="end" fill="#000">6470</text>
<line x1="570.80" y1="459.50" x2="576.60" y2="459.50" stroke="#111" stroke-width="1"/>
<text x="569.3" y="463.3" font-size="10.9" font-family="Liberation Sans, sans-serif" text-anchor="end" fill="#000">6465</text>
<line x1="570.80" y1="466.50" x2="576.60" y2="466.50" stroke="#111" stroke-width="1"/>
<text x="538.5" y="470.3" font-size="10.9" font-family="Liberation Sans, sans-serif" text-anchor="end" fill="#000">6460</text>
<line x1="570.80" y1="474.50" x2="576.60" y2="474.50" stroke="#111" stroke-width="1"/>
<text x="569.3" y="478.3" font-size="10.9" font-family="Liberation Sans, sans-serif" text-anchor="end" fill="#000">6455</text>
<line x1="570.80" y1="481.50" x2="576.60" y2="481.50" stroke="#111" stroke-width="1"/>
<text x="538.5" y="485.3" font-size="10.9" font-family="Liberation Sans, sans-serif" text-anchor="end" fill="#000">6450</text>
<line x1="570.80" y1="489.50" x2="576.60" y2="489.50" stroke="#111" stroke-width="1"/>
<text x="569.3" y="493.3" font-size="10.9" font-family="Liberation Sans, sans-serif" text-anchor="end" fill="#000">6445</text>
<line x1="570.80" y1="496.50" x2="576.60" y2="496.50" stroke="#111" stroke-width="1"/>
<text x="538.5" y="500.3" font-size="10.9" font-family="Liberation Sans, sans-serif" text-anchor="end" fill="#000">6440</text>
<line x1="570.80" y1="504.50" x2="576.60" y2="504.50" stroke="#111" stroke-width="1"/>
<text x="569.3" y="508.3" font-size="10.9" font-family="Liberation Sans, sans-serif" text-anchor="end" fill="#000">6435</text>
<line x1="570.80" y1="511.50" x2="576.60" y2="511.50" stroke="#111" stroke-width="1"/>
<text x="538.5" y="515.3" font-size="10.9" font-family="Liberation Sans, sans-serif" text-anchor="end" fill="#000">6430</text>
<line x1="570.80" y1="519.50" x2="576.60" y2="519.50" stroke="#111" stroke-width="1"/>
<text x="569.3" y="523.3" font-size="10.9" font-family="Liberation Sans, sans-serif" text-anchor="end" fill="#000">6425</text>
<line x1="570.80" y1="526.50" x2="576.60" y2="526.50" stroke="#111" stroke-width="1"/>
<text x="538.5" y="530.3" font-size="10.9" font-family="Liberation Sans, sans-serif" text-anchor="end" fill="#000">6420</text>
<line x1="570.80" y1="534.50" x2="576.60" y2="534.50" stroke="#111" stroke-width="1"/>
<text x="569.3" y="538.3" font-size="10.9" font-family="Liberation Sans, sans-serif" text-anchor="end" fill="#000">6415</text>
<line x1="570.80" y1="541.50" x2="576.60" y2="541.50" stroke="#111" stroke-width="1"/>
<text x="538.5" y="545.3" font-size="10.9" font-family="Liberation Sans, sans-serif" text-anchor="end" fill="#000">6410</text>
<line x1="570.80" y1="549.50" x2="576.60" y2="549.50" stroke="#111" stroke-width="1"/>
<text x="569.3" y="553.3" font-size="10.9" font-family="Liberation Sans, sans-serif" text-anchor="end" fill="#000">6405</text>
<line x1="570.80" y1="556.50" x2="576.60" y2="556.50" stroke="#111" stroke-width="1"/>
<text x="538.5" y="560.3" font-size="10.9" font-family="Liberation Sans, sans-serif" text-anchor="end" fill="#000">6400</text>
<line x1="570.80" y1="564.50" x2="576.60" y2="564.50" stroke="#111" stroke-width="1"/>
<text x="569.3" y="568.3" font-size="10.9" font-family="Liberation Sans, sans-serif" text-anchor="end" fill="#000">6395</text>
<line x1="570.80" y1="571.50" x2="576.60" y2="571.50" stroke="#111" stroke-width="1"/>
<text x="538.5" y="575.3" font-size="10.9" font-family="Liberation Sans, sans-serif" text-anchor="end" fill="#000">6390</text>
<line x1="570.80" y1="579.50" x2="576.60" y2="579.50" stroke="#111" stroke-width="1"/>
<text x="569.3" y="583.3" font-size="10.9" font-family="Liberation Sans, sans-serif" text-anchor="end" fill="#000">6385</text>
<line x1="570.80" y1="586.50" x2="576.60" y2="586.50" stroke="#111" stroke-width="1"/>
<text x="538.5" y="590.3" font-size="10.9" font-family="Liberation Sans, sans-serif" text-anchor="end" fill="#000">6380</text>
<line x1="570.80" y1="594.50" x2="576.60" y2="594.50" stroke="#111" stroke-width="1"/>
<text x="569.3" y="598.3" font-size="10.9" font-family="Liberation Sans, sans-serif" text-anchor="end" fill="#000">6375</text>
<line x1="570.80" y1="601.50" x2="576.60" y2="601.50" stroke="#111" stroke-width="1"/>
<text x="538.5" y="605.3" font-size="10.9" font-family="Liberation Sans, sans-serif" text-anchor="end" fill="#000">6370</text>
<line x1="570.80" y1="609.50" x2="576.60" y2="609.50" stroke="#111" stroke-width="1"/>
<text x="569.3" y="613.3" font-size="10.9" font-family="Liberation Sans, sans-serif" text-anchor="end" fill="#000">6365</text>
<line x1="570.80" y1="616.50" x2="576.60" y2="616.50" stroke="#111" stroke-width="1"/>
<text x="538.5" y="620.3" font-size="10.9" font-family="Liberation Sans, sans-serif" text-anchor="end" fill="#000">6360</text>
<line x1="570.80" y1="624.50" x2="576.60" y2="624.50" stroke="#111" stroke-width="1"/>
<text x="569.3" y="628.3" font-size="10.9" font-family="Liberation Sans, sans-serif" text-anchor="end" fill="#000">6355</text>
<line x1="570.80" y1="631.50" x2="576.60" y2="631.50" stroke="#111" stroke-width="1"/>
<text x="538.5" y="635.3" font-size="10.9" font-family="Liberation Sans, sans-serif" text-anchor="end" fill="#000">6350</text>
<rect x="681.00" y="64.70" width="7.29" height="3.30" fill="#08ec08"/>
<rect x="681.00" y="72.70" width="36.03" height="3.30" fill="#08ec08"/>
<rect x="671.93" y="79.70" width="9.07" height="3.30" fill="#08ec08"/>
<rect x="620.97" y="87.70" width="60.03" height="3.30" fill="#08ec08"/>
<rect x="681.00" y="94.70" width="1.00" height="3.30" fill="#08ec08"/>
<rect x="661.41" y="102.70" width="19.59" height="3.30" fill="#08ec08"/>
<rect x="681.00" y="109.70" width="8.55" height="3.30" fill="#08ec08"/>
<rect x="674.59" y="117.70" width="6.41" height="3.30" fill="#08ec08"/>
<rect x="681.00" y="124.70" width="1.00" height="3.30" fill="#08ec08"/>
<rect x="681.00" y="132.70" width="8.63" height="3.30" fill="#08ec08"/>
<rect x="677.41" y="139.70" width="3.59" height="3.30" fill="#08ec08"/>
<rect x="669.34" y="147.70" width="11.66" height="3.30" fill="#08ec08"/>
<rect x="681.00" y="154.70" width="7.07" height="3.30" fill="#08ec08"/>
<rect x="679.93" y="162.70" width="1.07" height="3.30" fill="#08ec08"/>
<rect x="681.00" y="169.70" width="2.48" height="3.30" fill="#08ec08"/>
<rect x="675.70" y="177.70" width="5.30" height="3.30" fill="#08ec08"/>
<rect x="681.00" y="184.70" width="1.89" height="3.30" fill="#08ec08"/>
<rect x="681.00" y="192.70" width="17.29" height="3.30" fill="#08ec08"/>
<rect x="681.00" y="199.70" width="1.00" height="3.30" fill="#08ec08"/>
<rect x="658.52" y="207.70" width="22.48" height="3.30" fill="#08ec08"/>
<rect x="665.19" y="214.70" width="15.81" height="3.30" fill="#08ec08"/>
<rect x="681.00" y="222.70" width="31.14" height="3.30" fill="#08ec08"/>
<rect x="681.00" y="229.70" width="3.37" height="3.30" fill="#08ec08"/>
<rect x="607.64" y="237.70" width="73.36" height="3.30" fill="#08ec08"/>
<rect x="681.00" y="244.70" width="9.29" height="3.30" fill="#08ec08"/>
<rect x="681.00" y="252.70" width="34.10" height="3.30" fill="#08ec08"/>
<rect x="681.00" y="259.70" width="6.55" height="3.30" fill="#08ec08"/>
<rect x="681.00" y="267.70" width="1.00" height="3.30" fill="#08ec08"/>
<rect x="681.00" y="274.70" width="3.15" height="3.30" fill="#08ec08"/>
<rect x="679.78" y="282.70" width="1.22" height="3.30" fill="#08ec08"/>
<rect x="660.89" y="289.70" width="20.11" height="3.30" fill="#08ec08"/>
<rect x="665.63" y="297.70" width="15.37" height="3.30" fill="#08ec08"/>
<rect x="681.00" y="304.70" width="1.00" height="3.30" fill="#08ec08"/>
<rect x="645.12" y="312.70" width="35.88" height="3.30" fill="#08ec08"/>
<rect x="681.00" y="319.70" width="1.00" height="3.30" fill="#08ec08"/>
<rect x="681.00" y="327.70" width="42.33" height="3.30" fill="#08ec08"/>
<rect x="679.93" y="334.70" width="1.07" height="3.30" fill="#08ec08"/>
<rect x="681.00" y="342.70" width="2.55" height="3.30" fill="#08ec08"/>
<rect x="681.00" y="349.70" width="1.00" height="3.30" fill="#08ec08"/>
<rect x="681.00" y="357.70" width="1.00" height="3.30" fill="#08ec08"/>
<rect x="681.00" y="372.70" width="1.00" height="3.30" fill="#08ec08"/>
<rect x="679.93" y="387.70" width="1.07" height="3.30" fill="#08ec08"/>
<rect x="657.56" y="402.70" width="23.44" height="3.30" fill="#08ec08"/>
<rect x="681.00" y="410.70" width="1.00" height="3.30" fill="#08ec08"/>
<rect x="679.93" y="417.70" width="1.07" height="3.30" fill="#08ec08"/>
<rect x="681.00" y="440.70" width="1.89" height="3.30" fill="#08ec08"/>
<rect x="679.85" y="462.70" width="1.15" height="3.30" fill="#08ec08"/>
<rect x="678.44" y="477.70" width="2.56" height="3.30" fill="#08ec08"/>
<rect x="681.00" y="485.70" width="1.00" height="3.30" fill="#08ec08"/>
<rect x="681.00" y="515.70" width="1.44" height="3.30" fill="#08ec08"/>
<rect x="679.26" y="552.70" width="1.74" height="3.30" fill="#08ec08"/>
<rect x="681.00" y="597.70" width="1.00" height="3.30" fill="#08ec08"/>
<rect x="681.00" y="605.70" width="1.00" height="3.30" fill="#08ec08"/>
<rect x="681.00" y="627.70" width="1.00" height="3.30" fill="#08ec08"/>
<rect x="681.00" y="61.00" width="1.00" height="2.90" fill="#ec0808"/>
<rect x="681.00" y="106.00" width="1.30" height="2.90" fill="#ec0808"/>
<rect x="681.00" y="136.00" width="1.00" height="2.90" fill="#ec0808"/>
<rect x="681.00" y="166.00" width="1.00" height="2.90" fill="#ec0808"/>
<rect x="681.00" y="173.00" width="1.00" height="2.90" fill="#ec0808"/>
<rect x="681.00" y="188.00" width="1.00" height="2.90" fill="#ec0808"/>
<rect x="679.93" y="196.00" width="1.07" height="2.90" fill="#ec0808"/>
<rect x="681.00" y="203.00" width="1.00" height="2.90" fill="#ec0808"/>
<rect x="679.63" y="211.00" width="1.37" height="2.90" fill="#ec0808"/>
<rect x="681.00" y="218.00" width="1.00" height="2.90" fill="#ec0808"/>
<rect x="681.00" y="226.00" width="1.22" height="2.90" fill="#ec0808"/>
<rect x="681.00" y="233.00" width="1.00" height="2.90" fill="#ec0808"/>
<rect x="681.00" y="241.00" width="4.63" height="2.90" fill="#ec0808"/>
<rect x="681.00" y="248.00" width="7.29" height="2.90" fill="#ec0808"/>
<rect x="681.00" y="256.00" width="50.03" height="2.90" fill="#ec0808"/>
<rect x="681.00" y="263.00" width="13.89" height="2.90" fill="#ec0808"/>
<rect x="681.00" y="271.00" width="22.40" height="2.90" fill="#ec0808"/>
<rect x="681.00" y="278.00" width="8.55" height="2.90" fill="#ec0808"/>
<rect x="681.00" y="286.00" width="4.11" height="2.90" fill="#ec0808"/>
<rect x="681.00" y="293.00" width="41.66" height="2.90" fill="#ec0808"/>
<rect x="681.00" y="301.00" width="3.44" height="2.90" fill="#ec0808"/>
<rect x="681.00" y="308.00" width="3.00" height="2.90" fill="#ec0808"/>
<rect x="681.00" y="316.00" width="11.00" height="2.90" fill="#ec0808"/>
<rect x="681.00" y="323.00" width="6.18" height="2.90" fill="#ec0808"/>
<rect x="681.00" y="331.00" width="26.99" height="2.90" fill="#ec0808"/>
<rect x="681.00" y="338.00" width="1.07" height="2.90" fill="#ec0808"/>
<rect x="681.00" y="346.00" width="1.00" height="2.90" fill="#ec0808"/>
<rect x="681.00" y="353.00" width="1.00" height="2.90" fill="#ec0808"/>
<rect x="681.00" y="361.00" width="1.81" height="2.90" fill="#ec0808"/>
<rect x="681.00" y="369.00" width="7.07" height="2.90" fill="#ec0808"/>
<rect x="675.26" y="376.00" width="5.74" height="2.90" fill="#ec0808"/>
<rect x="681.00" y="384.00" width="1.00" height="2.90" fill="#ec0808"/>
<rect x="648.97" y="391.00" width="32.03" height="2.90" fill="#ec0808"/>
<rect x="681.00" y="399.00" width="1.00" height="2.90" fill="#ec0808"/>
<rect x="681.00" y="406.00" width="150.23" height="2.90" fill="#ec0808"/>
<rect x="681.00" y="414.00" width="15.15" height="2.90" fill="#ec0808"/>
<rect x="679.11" y="421.00" width="1.89" height="2.90" fill="#ec0808"/>
<rect x="681.00" y="429.00" width="1.00" height="2.90" fill="#ec0808"/>
<rect x="678.07" y="436.00" width="2.93" height="2.90" fill="#ec0808"/>
<rect x="645.93" y="444.00" width="35.07" height="2.90" fill="#ec0808"/>
<rect x="681.00" y="451.00" width="5.74" height="2.90" fill="#ec0808"/>
<rect x="677.11" y="459.00" width="3.89" height="2.90" fill="#ec0808"/>
<rect x="670.22" y="466.00" width="10.78" height="2.90" fill="#ec0808"/>
<rect x="681.00" y="474.00" width="5.74" height="2.90" fill="#ec0808"/>
<rect x="681.00" y="481.00" width="34.77" height="2.90" fill="#ec0808"/>
<rect x="681.00" y="489.00" width="3.22" height="2.90" fill="#ec0808"/>
<rect x="681.00" y="496.00" width="8.04" height="2.90" fill="#ec0808"/>
<rect x="681.00" y="504.00" width="16.40" height="2.90" fill="#ec0808"/>
<rect x="681.00" y="511.00" width="2.55" height="2.90" fill="#ec0808"/>
<rect x="681.00" y="519.00" width="16.18" height="2.90" fill="#ec0808"/>
<rect x="677.33" y="526.00" width="3.67" height="2.90" fill="#ec0808"/>
<rect x="676.67" y="541.00" width="4.33" height="2.90" fill="#ec0808"/>
<rect x="681.00" y="549.00" width="6.85" height="2.90" fill="#ec0808"/>
<rect x="681.00" y="556.00" width="130.60" height="2.90" fill="#ec0808"/>
<rect x="681.00" y="564.00" width="1.00" height="2.90" fill="#ec0808"/>
<rect x="679.78" y="571.00" width="1.22" height="2.90" fill="#ec0808"/>
<rect x="681.00" y="579.00" width="1.00" height="2.90" fill="#ec0808"/>
<rect x="679.70" y="586.00" width="1.30" height="2.90" fill="#ec0808"/>
<rect x="681.00" y="594.00" width="17.52" height="2.90" fill="#ec0808"/>
<rect x="681.00" y="601.00" width="1.00" height="2.90" fill="#ec0808"/>
<rect x="681.00" y="609.00" width="36.55" height="2.90" fill="#ec0808"/>
<rect x="677.63" y="616.00" width="3.37" height="2.90" fill="#ec0808"/>
<rect x="681.00" y="624.00" width="8.92" height="2.90" fill="#ec0808"/>
<line x1="576.30" y1="261.50" x2="877.00" y2="261.50" stroke="#000" stroke-width="1"/>
<line x1="681.20" y1="106.50" x2="875.00" y2="106.50" stroke="#141488" stroke-width="1"/>
<line x1="681.20" y1="436.50" x2="875.00" y2="436.50" stroke="#141488" stroke-width="1"/>
<text x="694.9" y="69.5" font-size="10.9" font-family="Liberation Sans, sans-serif" fill="#000">112</text>
<text x="723.6" y="77.5" font-size="10.9" font-family="Liberation Sans, sans-serif" fill="#000">500</text>
<text x="668.2" y="84.5" font-size="10.9" font-family="Liberation Sans, sans-serif" text-anchor="end" fill="#000">-109</text>
<text x="617.3" y="92.5" font-size="10.9" font-family="Liberation Sans, sans-serif" text-anchor="end" fill="#000">-797</text>
<text x="688.6" y="99.5" font-size="10.9" font-family="Liberation Sans, sans-serif" fill="#000">13</text>
<text x="657.7" y="107.5" font-size="10.9" font-family="Liberation Sans, sans-serif" text-anchor="end" fill="#000">-251</text>
<text x="696.2" y="114.5" font-size="10.9" font-family="Liberation Sans, sans-serif" fill="#000">129</text>
<text x="670.9" y="122.5" font-size="10.9" font-family="Liberation Sans, sans-serif" text-anchor="end" fill="#000">-73</text>
<text x="688.6" y="129.5" font-size="10.9" font-family="Liberation Sans, sans-serif" fill="#000">6</text>
<text x="696.2" y="137.4" font-size="10.9" font-family="Liberation Sans, sans-serif" fill="#000">130</text>
<text x="673.7" y="144.4" font-size="10.9" font-family="Liberation Sans, sans-serif" text-anchor="end" fill="#000">-35</text>
<text x="665.6" y="152.4" font-size="10.9" font-family="Liberation Sans, sans-serif" text-anchor="end" fill="#000">-144</text>
<text x="694.7" y="159.4" font-size="10.9" font-family="Liberation Sans, sans-serif" fill="#000">109</text>
<text x="676.2" y="167.4" font-size="10.9" font-family="Liberation Sans, sans-serif" text-anchor="end" fill="#000">-1</text>
<text x="690.1" y="174.4" font-size="10.9" font-family="Liberation Sans, sans-serif" fill="#000">47</text>
<text x="672.0" y="182.4" font-size="10.9" font-family="Liberation Sans, sans-serif" text-anchor="end" fill="#000">-58</text>
<text x="689.5" y="189.4" font-size="10.9" font-family="Liberation Sans, sans-serif" fill="#000">39</text>
<text x="704.9" y="197.4" font-size="10.9" font-family="Liberation Sans, sans-serif" fill="#000">247</text>
<text x="688.6" y="204.4" font-size="10.9" font-family="Liberation Sans, sans-serif" fill="#000">17</text>
<text x="654.8" y="212.4" font-size="10.9" font-family="Liberation Sans, sans-serif" text-anchor="end" fill="#000">-290</text>
<text x="661.5" y="219.4" font-size="10.9" font-family="Liberation Sans, sans-serif" text-anchor="end" fill="#000">-200</text>
<text x="718.7" y="227.4" font-size="10.9" font-family="Liberation Sans, sans-serif" fill="#000">434</text>
<text x="691.0" y="234.4" font-size="10.9" font-family="Liberation Sans, sans-serif" fill="#000">59</text>
<text x="603.9" y="242.4" font-size="10.9" font-family="Liberation Sans, sans-serif" text-anchor="end" fill="#000">-977</text>
<text x="696.9" y="249.4" font-size="10.9" font-family="Liberation Sans, sans-serif" fill="#000">139</text>
<text x="721.7" y="257.4" font-size="10.9" font-family="Liberation Sans, sans-serif" fill="#000">474</text>
<text x="694.2" y="264.4" font-size="10.9" font-family="Liberation Sans, sans-serif" fill="#000">102</text>
<text x="688.6" y="272.4" font-size="10.9" font-family="Liberation Sans, sans-serif" fill="#000">2</text>
<text x="690.7" y="279.4" font-size="10.9" font-family="Liberation Sans, sans-serif" fill="#000">56</text>
<text x="676.1" y="287.4" font-size="10.9" font-family="Liberation Sans, sans-serif" text-anchor="end" fill="#000">-3</text>
<text x="657.2" y="294.4" font-size="10.9" font-family="Liberation Sans, sans-serif" text-anchor="end" fill="#000">-258</text>
<text x="661.9" y="302.4" font-size="10.9" font-family="Liberation Sans, sans-serif" text-anchor="end" fill="#000">-194</text>
<text x="688.6" y="309.4" font-size="10.9" font-family="Liberation Sans, sans-serif" fill="#000">2</text>
<text x="641.4" y="317.4" font-size="10.9" font-family="Liberation Sans, sans-serif" text-anchor="end" fill="#000">-471</text>
<text x="688.6" y="324.4" font-size="10.9" font-family="Liberation Sans, sans-serif" fill="#000">17</text>
<text x="729.9" y="332.4" font-size="10.9" font-family="Liberation Sans, sans-serif" fill="#000">585</text>
<text x="676.2" y="339.4" font-size="10.9" font-family="Liberation Sans, sans-serif" text-anchor="end" fill="#000">-1</text>
<text x="690.2" y="347.4" font-size="10.9" font-family="Liberation Sans, sans-serif" fill="#000">48</text>
<text x="688.6" y="354.4" font-size="10.9" font-family="Liberation Sans, sans-serif" fill="#000">10</text>
<text x="688.6" y="362.4" font-size="10.9" font-family="Liberation Sans, sans-serif" fill="#000">5</text>
<text x="688.6" y="377.4" font-size="10.9" font-family="Liberation Sans, sans-serif" fill="#000">1</text>
<text x="676.2" y="392.4" font-size="10.9" font-family="Liberation Sans, sans-serif" text-anchor="end" fill="#000">-1</text>
<text x="653.9" y="407.4" font-size="10.9" font-family="Liberation Sans, sans-serif" text-anchor="end" fill="#000">-303</text>
<text x="688.6" y="415.4" font-size="10.9" font-family="Liberation Sans, sans-serif" fill="#000">1</text>
<text x="676.2" y="422.4" font-size="10.9" font-family="Liberation Sans, sans-serif" text-anchor="end" fill="#000">-1</text>
<text x="689.5" y="445.4" font-size="10.9" font-family="Liberation Sans, sans-serif" fill="#000">39</text>
<text x="676.2" y="467.4" font-size="10.9" font-family="Liberation Sans, sans-serif" text-anchor="end" fill="#000">-2</text>
<text x="674.7" y="482.4" font-size="10.9" font-family="Liberation Sans, sans-serif" text-anchor="end" fill="#000">-21</text>
<text x="688.6" y="490.4" font-size="10.9" font-family="Liberation Sans, sans-serif" fill="#000">1</text>
<text x="689.0" y="520.5" font-size="10.9" font-family="Liberation Sans, sans-serif" fill="#000">33</text>
<text x="675.6" y="557.5" font-size="10.9" font-family="Liberation Sans, sans-serif" text-anchor="end" fill="#000">-10</text>
<text x="688.6" y="602.5" font-size="10.9" font-family="Liberation Sans, sans-serif" fill="#000">5</text>
<text x="688.6" y="610.5" font-size="10.9" font-family="Liberation Sans, sans-serif" fill="#000">1</text>
<text x="688.6" y="632.5" font-size="10.9" font-family="Liberation Sans, sans-serif" fill="#000">1</text>
<text x="688.6" y="65.5" font-size="10.9" font-family="Liberation Sans, sans-serif" fill="#000">1</text>
<text x="688.9" y="110.5" font-size="10.9" font-family="Liberation Sans, sans-serif" fill="#000">31</text>
<text x="688.6" y="140.5" font-size="10.9" font-family="Liberation Sans, sans-serif" fill="#000">1</text>
<text x="688.6" y="170.5" font-size="10.9" font-family="Liberation Sans, sans-serif" fill="#000">4</text>
<text x="688.6" y="177.5" font-size="10.9" font-family="Liberation Sans, sans-serif" fill="#000">1</text>
<text x="688.6" y="192.5" font-size="10.9" font-family="Liberation Sans, sans-serif" fill="#000">2</text>
<text x="676.2" y="200.5" font-size="10.9" font-family="Liberation Sans, sans-serif" text-anchor="end" fill="#000">-1</text>
<text x="688.6" y="207.5" font-size="10.9" font-family="Liberation Sans, sans-serif" fill="#000">6</text>
<text x="675.9" y="215.5" font-size="10.9" font-family="Liberation Sans, sans-serif" text-anchor="end" fill="#000">-5</text>
<text x="688.6" y="222.5" font-size="10.9" font-family="Liberation Sans, sans-serif" fill="#000">22</text>
<text x="688.8" y="230.5" font-size="10.9" font-family="Liberation Sans, sans-serif" fill="#000">30</text>
<text x="688.6" y="237.5" font-size="10.9" font-family="Liberation Sans, sans-serif" fill="#000">27</text>
<text x="692.2" y="245.5" font-size="10.9" font-family="Liberation Sans, sans-serif" fill="#000">76</text>
<text x="694.9" y="252.5" font-size="10.9" font-family="Liberation Sans, sans-serif" fill="#000">112</text>
<text x="737.6" y="260.6" font-size="10.9" font-family="Liberation Sans, sans-serif" fill="#000">689</text>
<text x="701.5" y="267.6" font-size="10.9" font-family="Liberation Sans, sans-serif" fill="#000">201</text>
<text x="710.0" y="275.6" font-size="10.9" font-family="Liberation Sans, sans-serif" fill="#000">316</text>
<text x="696.2" y="282.6" font-size="10.9" font-family="Liberation Sans, sans-serif" fill="#000">129</text>
<text x="691.7" y="290.6" font-size="10.9" font-family="Liberation Sans, sans-serif" fill="#000">69</text>
<text x="729.3" y="297.6" font-size="10.9" font-family="Liberation Sans, sans-serif" fill="#000">576</text>
<text x="691.0" y="305.6" font-size="10.9" font-family="Liberation Sans, sans-serif" fill="#000">60</text>
<text x="690.6" y="312.6" font-size="10.9" font-family="Liberation Sans, sans-serif" fill="#000">54</text>
<text x="698.6" y="320.6" font-size="10.9" font-family="Liberation Sans, sans-serif" fill="#000">162</text>
<text x="693.8" y="327.6" font-size="10.9" font-family="Liberation Sans, sans-serif" fill="#000">97</text>
<text x="714.6" y="335.6" font-size="10.9" font-family="Liberation Sans, sans-serif" fill="#000">378</text>
<text x="688.7" y="342.6" font-size="10.9" font-family="Liberation Sans, sans-serif" fill="#000">28</text>
<text x="688.6" y="350.6" font-size="10.9" font-family="Liberation Sans, sans-serif" fill="#000">16</text>
<text x="688.6" y="357.6" font-size="10.9" font-family="Liberation Sans, sans-serif" fill="#000">19</text>
<text x="689.4" y="365.6" font-size="10.9" font-family="Liberation Sans, sans-serif" fill="#000">38</text>
<text x="694.7" y="373.6" font-size="10.9" font-family="Liberation Sans, sans-serif" fill="#000">109</text>
<text x="671.6" y="380.6" font-size="10.9" font-family="Liberation Sans, sans-serif" text-anchor="end" fill="#000">-64</text>
<text x="688.6" y="388.6" font-size="10.9" font-family="Liberation Sans, sans-serif" fill="#000">11</text>
<text x="645.3" y="395.6" font-size="10.9" font-family="Liberation Sans, sans-serif" text-anchor="end" fill="#000">-419</text>
<text x="688.6" y="403.6" font-size="10.9" font-family="Liberation Sans, sans-serif" fill="#000">6</text>
<text x="837.8" y="410.6" font-size="10.9" font-family="Liberation Sans, sans-serif" fill="#000">2042</text>
<text x="702.7" y="418.6" font-size="10.9" font-family="Liberation Sans, sans-serif" fill="#000">218</text>
<text x="675.4" y="425.6" font-size="10.9" font-family="Liberation Sans, sans-serif" text-anchor="end" fill="#000">-12</text>
<text x="688.6" y="433.6" font-size="10.9" font-family="Liberation Sans, sans-serif" fill="#000">17</text>
<text x="674.4" y="440.6" font-size="10.9" font-family="Liberation Sans, sans-serif" text-anchor="end" fill="#000">-26</text>
<text x="642.2" y="448.6" font-size="10.9" font-family="Liberation Sans, sans-serif" text-anchor="end" fill="#000">-460</text>
<text x="693.3" y="455.6" font-size="10.9" font-family="Liberation Sans, sans-serif" fill="#000">91</text>
<text x="673.4" y="463.6" font-size="10.9" font-family="Liberation Sans, sans-serif" text-anchor="end" fill="#000">-39</text>
<text x="666.5" y="470.6" font-size="10.9" font-family="Liberation Sans, sans-serif" text-anchor="end" fill="#000">-132</text>
<text x="693.3" y="478.6" font-size="10.9" font-family="Liberation Sans, sans-serif" fill="#000">91</text>
<text x="722.4" y="485.6" font-size="10.9" font-family="Liberation Sans, sans-serif" fill="#000">483</text>
<text x="690.8" y="493.6" font-size="10.9" font-family="Liberation Sans, sans-serif" fill="#000">57</text>
<text x="695.6" y="500.6" font-size="10.9" font-family="Liberation Sans, sans-serif" fill="#000">122</text>
<text x="704.0" y="508.6" font-size="10.9" font-family="Liberation Sans, sans-serif" fill="#000">235</text>
<text x="690.2" y="515.6" font-size="10.9" font-family="Liberation Sans, sans-serif" fill="#000">48</text>
<text x="703.8" y="523.6" font-size="10.9" font-family="Liberation Sans, sans-serif" fill="#000">232</text>
<text x="673.6" y="530.6" font-size="10.9" font-family="Liberation Sans, sans-serif" text-anchor="end" fill="#000">-36</text>
<text x="673.0" y="545.6" font-size="10.9" font-family="Liberation Sans, sans-serif" text-anchor="end" fill="#000">-45</text>
<text x="694.5" y="553.6" font-size="10.9" font-family="Liberation Sans, sans-serif" fill="#000">106</text>
<text x="818.2" y="560.6" font-size="10.9" font-family="Liberation Sans, sans-serif" fill="#000">1777</text>
<text x="688.6" y="568.6" font-size="10.9" font-family="Liberation Sans, sans-serif" fill="#000">21</text>
<text x="676.1" y="575.6" font-size="10.9" font-family="Liberation Sans, sans-serif" text-anchor="end" fill="#000">-3</text>
<text x="688.6" y="583.6" font-size="10.9" font-family="Liberation Sans, sans-serif" fill="#000">16</text>
<text x="676.0" y="590.6" font-size="10.9" font-family="Liberation Sans, sans-serif" text-anchor="end" fill="#000">-4</text>
<text x="705.1" y="598.6" font-size="10.9" font-family="Liberation Sans, sans-serif" fill="#000">250</text>
<text x="688.6" y="605.6" font-size="10.9" font-family="Liberation Sans, sans-serif" fill="#000">24</text>
<text x="724.1" y="613.6" font-size="10.9" font-family="Liberation Sans, sans-serif" fill="#000">507</text>
<text x="673.9" y="620.6" font-size="10.9" font-family="Liberation Sans, sans-serif" text-anchor="end" fill="#000">-32</text>
<text x="696.5" y="628.6" font-size="10.9" font-family="Liberation Sans, sans-serif" fill="#000">134</text>
<text x="874.5" y="110.7" font-size="11.6" font-family="Liberation Sans, sans-serif" font-weight="bold" textLength="33.5" lengthAdjust="spacing" fill="#000" stroke="#000" stroke-width="0.25">+80%</text>
<text x="874.5" y="440.8" font-size="11.6" font-family="Liberation Sans, sans-serif" font-weight="bold" textLength="33.5" lengthAdjust="spacing" fill="#000" stroke="#000" stroke-width="0.25">+40%</text>
<text x="876.5" y="266.0" font-size="11.6" font-family="Liberation Sans, sans-serif" font-weight="bold" textLength="51.5" lengthAdjust="spacing" fill="#000" stroke="#000" stroke-width="0.25">6 596.50</text>
<text x="93.8" y="685.0" font-size="13.2" font-family="Liberation Serif, serif" textLength="297.5" lengthAdjust="spacingAndGlyphs" fill="#000" stroke="#000" stroke-width="0.12">OPEN INTEREST OPTIONS DEL 12/09/2025</text>
<text x="543.5" y="685.0" font-size="13.2" font-family="Liberation Serif, serif" textLength="378.5" lengthAdjust="spacingAndGlyphs" fill="#000" stroke="#000" stroke-width="0.12">DIFF. OPEN INTEREST TRA IL 11/09/2025 E 12/09/2025</text>
</svg>
</body></html>
